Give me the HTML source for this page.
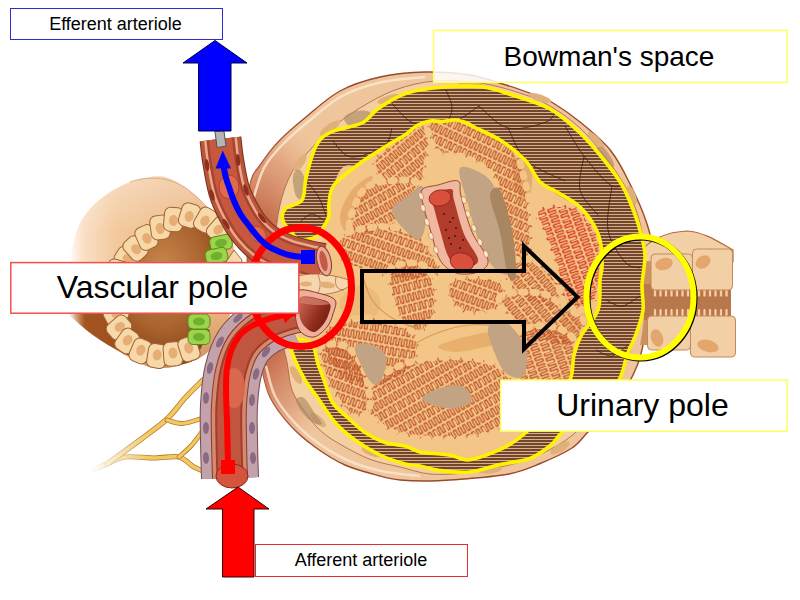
<!DOCTYPE html>
<html><head><meta charset="utf-8"><title>Renal corpuscle</title>
<style>
html,body{margin:0;padding:0;background:#fff;}
body{width:800px;height:600px;overflow:hidden;position:relative;font-family:"Liberation Sans",sans-serif;}
svg{position:absolute;left:0;top:0;}
.lb{position:absolute;box-sizing:border-box;display:flex;align-items:center;justify-content:center;color:#000;white-space:nowrap;}
</style></head><body>
<svg width="800" height="600" viewBox="0 0 800 600">
<defs>
<pattern id="hatch" width="6" height="3" patternUnits="userSpaceOnUse">
  <rect width="6" height="3" fill="#6a4029"/>
  <rect width="6" height="1.1" y="0.95" fill="#dcae88"/>
</pattern>
<pattern id="sq" width="22" height="16" patternUnits="userSpaceOnUse" patternTransform="rotate(-20)">
  <path d="M0,4 h3 v-3 h3 v3 h3 v-3 h3 v3 h3 v-3 h3 v3 h4 M0,12 h2 v-3 h3 v3 h3 v-3 h3 v3 h3 v-3 h3 v3 h5" fill="none" stroke="#c2552b" stroke-width="1.4" stroke-linejoin="round"/>
</pattern>
<linearGradient id="gBody" x1="0" y1="0" x2="1" y2="0">
  <stop offset="0" stop-color="#ffffff"/><stop offset="0.09" stop-color="#fae0c6"/><stop offset="0.28" stop-color="#f3c99e"/><stop offset="0.6" stop-color="#eebb8a"/><stop offset="1" stop-color="#e8b07c"/>
</linearGradient>
<radialGradient id="gLumen" cx="0.45" cy="0.4" r="0.7">
  <stop offset="0" stop-color="#c98a4e"/><stop offset="0.6" stop-color="#a8612c"/><stop offset="1" stop-color="#7d3c12"/>
</radialGradient>
<radialGradient id="gCaps" cx="0.5" cy="0.5" r="0.55">
  <stop offset="0.7" stop-color="#f4cfa5"/><stop offset="1" stop-color="#eab887"/>
</radialGradient>
<linearGradient id="gUnder" x1="0" y1="0" x2="1" y2="0">
  <stop offset="0" stop-color="#a5541f" stop-opacity="0"/><stop offset="0.12" stop-color="#a5541f"/><stop offset="1" stop-color="#8a4418"/>
</linearGradient>
<linearGradient id="gFade" x1="0" y1="0" x2="1" y2="0"><stop offset="0" stop-color="#000"/><stop offset="1" stop-color="#fff"/></linearGradient>
<mask id="mFade" maskUnits="userSpaceOnUse" x="90" y="370" width="130" height="110"><rect x="90" y="370" width="60" height="110" fill="url(#gFade)"/><rect x="150" y="370" width="70" height="110" fill="#fff"/></mask>
<pattern id="sq0" width="10.80" height="21.00" patternUnits="userSpaceOnUse" patternTransform="rotate(-40)"><path d="M0.00,1.50 v7.00 h2.70 v-7.00 h2.70 v7.00 h2.70 v-7.00 h2.70 M1.30,12.00 v7.00 h2.70 v-7.00 h2.70 v7.00 h2.70 v-7.00 h2.70" fill="none" stroke="#c2562c" stroke-width="1.28" stroke-linejoin="round" stroke-linecap="round"/></pattern>
<pattern id="sqr0" width="10.80" height="21.00" patternUnits="userSpaceOnUse" patternTransform="rotate(-40)"><path d="M0.00,1.50 v7.00 h2.70 v-7.00 h2.70 v7.00 h2.70 v-7.00 h2.70 M1.30,12.00 v7.00 h2.70 v-7.00 h2.70 v7.00 h2.70 v-7.00 h2.70" fill="none" stroke="#d63a24" stroke-width="1.28" stroke-linejoin="round" stroke-linecap="round"/></pattern>
<pattern id="sq1" width="10.80" height="21.00" patternUnits="userSpaceOnUse" patternTransform="rotate(-30)"><path d="M0.00,1.50 v7.00 h2.70 v-7.00 h2.70 v7.00 h2.70 v-7.00 h2.70 M1.30,12.00 v7.00 h2.70 v-7.00 h2.70 v7.00 h2.70 v-7.00 h2.70" fill="none" stroke="#c2562c" stroke-width="1.28" stroke-linejoin="round" stroke-linecap="round"/></pattern>
<pattern id="sqr1" width="10.80" height="21.00" patternUnits="userSpaceOnUse" patternTransform="rotate(-30)"><path d="M0.00,1.50 v7.00 h2.70 v-7.00 h2.70 v7.00 h2.70 v-7.00 h2.70 M1.30,12.00 v7.00 h2.70 v-7.00 h2.70 v7.00 h2.70 v-7.00 h2.70" fill="none" stroke="#d63a24" stroke-width="1.28" stroke-linejoin="round" stroke-linecap="round"/></pattern>
<pattern id="sq2" width="10.80" height="21.00" patternUnits="userSpaceOnUse" patternTransform="rotate(20)"><path d="M0.00,1.50 v7.00 h2.70 v-7.00 h2.70 v7.00 h2.70 v-7.00 h2.70 M1.30,12.00 v7.00 h2.70 v-7.00 h2.70 v7.00 h2.70 v-7.00 h2.70" fill="none" stroke="#c2562c" stroke-width="1.28" stroke-linejoin="round" stroke-linecap="round"/></pattern>
<pattern id="sqr2" width="10.80" height="21.00" patternUnits="userSpaceOnUse" patternTransform="rotate(20)"><path d="M0.00,1.50 v7.00 h2.70 v-7.00 h2.70 v7.00 h2.70 v-7.00 h2.70 M1.30,12.00 v7.00 h2.70 v-7.00 h2.70 v7.00 h2.70 v-7.00 h2.70" fill="none" stroke="#d63a24" stroke-width="1.28" stroke-linejoin="round" stroke-linecap="round"/></pattern>
<pattern id="sq3" width="10.80" height="21.00" patternUnits="userSpaceOnUse" patternTransform="rotate(25)"><path d="M0.00,1.50 v7.00 h2.70 v-7.00 h2.70 v7.00 h2.70 v-7.00 h2.70 M1.30,12.00 v7.00 h2.70 v-7.00 h2.70 v7.00 h2.70 v-7.00 h2.70" fill="none" stroke="#c2562c" stroke-width="1.28" stroke-linejoin="round" stroke-linecap="round"/></pattern>
<pattern id="sqr3" width="10.80" height="21.00" patternUnits="userSpaceOnUse" patternTransform="rotate(25)"><path d="M0.00,1.50 v7.00 h2.70 v-7.00 h2.70 v7.00 h2.70 v-7.00 h2.70 M1.30,12.00 v7.00 h2.70 v-7.00 h2.70 v7.00 h2.70 v-7.00 h2.70" fill="none" stroke="#d63a24" stroke-width="1.28" stroke-linejoin="round" stroke-linecap="round"/></pattern>
<pattern id="sq4" width="10.80" height="21.00" patternUnits="userSpaceOnUse" patternTransform="rotate(50)"><path d="M0.00,1.50 v7.00 h2.70 v-7.00 h2.70 v7.00 h2.70 v-7.00 h2.70 M1.30,12.00 v7.00 h2.70 v-7.00 h2.70 v7.00 h2.70 v-7.00 h2.70" fill="none" stroke="#c2562c" stroke-width="1.28" stroke-linejoin="round" stroke-linecap="round"/></pattern>
<pattern id="sqr4" width="10.80" height="21.00" patternUnits="userSpaceOnUse" patternTransform="rotate(50)"><path d="M0.00,1.50 v7.00 h2.70 v-7.00 h2.70 v7.00 h2.70 v-7.00 h2.70 M1.30,12.00 v7.00 h2.70 v-7.00 h2.70 v7.00 h2.70 v-7.00 h2.70" fill="none" stroke="#d63a24" stroke-width="1.28" stroke-linejoin="round" stroke-linecap="round"/></pattern>
<pattern id="sq5" width="10.80" height="21.00" patternUnits="userSpaceOnUse" patternTransform="rotate(70)"><path d="M0.00,1.50 v7.00 h2.70 v-7.00 h2.70 v7.00 h2.70 v-7.00 h2.70 M1.30,12.00 v7.00 h2.70 v-7.00 h2.70 v7.00 h2.70 v-7.00 h2.70" fill="none" stroke="#c2562c" stroke-width="1.28" stroke-linejoin="round" stroke-linecap="round"/></pattern>
<pattern id="sqr5" width="10.80" height="21.00" patternUnits="userSpaceOnUse" patternTransform="rotate(70)"><path d="M0.00,1.50 v7.00 h2.70 v-7.00 h2.70 v7.00 h2.70 v-7.00 h2.70 M1.30,12.00 v7.00 h2.70 v-7.00 h2.70 v7.00 h2.70 v-7.00 h2.70" fill="none" stroke="#d63a24" stroke-width="1.28" stroke-linejoin="round" stroke-linecap="round"/></pattern>
<pattern id="sq6" width="10.80" height="21.00" patternUnits="userSpaceOnUse" patternTransform="rotate(-15)"><path d="M0.00,1.50 v7.00 h2.70 v-7.00 h2.70 v7.00 h2.70 v-7.00 h2.70 M1.30,12.00 v7.00 h2.70 v-7.00 h2.70 v7.00 h2.70 v-7.00 h2.70" fill="none" stroke="#c2562c" stroke-width="1.28" stroke-linejoin="round" stroke-linecap="round"/></pattern>
<pattern id="sqr6" width="10.80" height="21.00" patternUnits="userSpaceOnUse" patternTransform="rotate(-15)"><path d="M0.00,1.50 v7.00 h2.70 v-7.00 h2.70 v7.00 h2.70 v-7.00 h2.70 M1.30,12.00 v7.00 h2.70 v-7.00 h2.70 v7.00 h2.70 v-7.00 h2.70" fill="none" stroke="#d63a24" stroke-width="1.28" stroke-linejoin="round" stroke-linecap="round"/></pattern>
<pattern id="sq7" width="10.80" height="21.00" patternUnits="userSpaceOnUse" patternTransform="rotate(10)"><path d="M0.00,1.50 v7.00 h2.70 v-7.00 h2.70 v7.00 h2.70 v-7.00 h2.70 M1.30,12.00 v7.00 h2.70 v-7.00 h2.70 v7.00 h2.70 v-7.00 h2.70" fill="none" stroke="#c2562c" stroke-width="1.28" stroke-linejoin="round" stroke-linecap="round"/></pattern>
<pattern id="sqr7" width="10.80" height="21.00" patternUnits="userSpaceOnUse" patternTransform="rotate(10)"><path d="M0.00,1.50 v7.00 h2.70 v-7.00 h2.70 v7.00 h2.70 v-7.00 h2.70 M1.30,12.00 v7.00 h2.70 v-7.00 h2.70 v7.00 h2.70 v-7.00 h2.70" fill="none" stroke="#d63a24" stroke-width="1.28" stroke-linejoin="round" stroke-linecap="round"/></pattern>
<linearGradient id="gCapsO" x1="0" y1="0.2" x2="1" y2="0.6">
  <stop offset="0" stop-color="#d89a70"/><stop offset="0.25" stop-color="#e7b488"/><stop offset="0.6" stop-color="#efc598"/><stop offset="1" stop-color="#e9b98a"/>
</linearGradient>
<radialGradient id="gRed" cx="0.5" cy="0.5" r="0.5">
  <stop offset="0" stop-color="#bc5c3e" stop-opacity="1"/><stop offset="0.45" stop-color="#c66e4e" stop-opacity="0.95"/><stop offset="0.75" stop-color="#d88e6c" stop-opacity="0.6"/><stop offset="1" stop-color="#e8b08a" stop-opacity="0"/>
</radialGradient>
<linearGradient id="gOpen" x1="0" y1="0.2" x2="1" y2="0.8">
  <stop offset="0" stop-color="#c86450"/><stop offset="0.6" stop-color="#8e2c1c"/><stop offset="1" stop-color="#6e1a10"/>
</linearGradient>
<linearGradient id="gBodyV" x1="0" y1="0" x2="0" y2="1">
  <stop offset="0" stop-color="#fff" stop-opacity="0.35"/><stop offset="0.3" stop-color="#fff" stop-opacity="0"/><stop offset="0.7" stop-color="#c07840" stop-opacity="0"/><stop offset="1" stop-color="#b06830" stop-opacity="0.5"/>
</linearGradient>
</defs>
<g mask="url(#mFade)">
<path d="M92.0,470.0 C94.5,469.0 101.5,466.2 107.0,464.0 C112.5,461.8 117.0,458.0 125.0,457.0 C133.0,456.0 146.0,458.0 155.0,458.0 C164.0,458.0 172.5,455.5 179.0,457.0 C185.5,458.5 189.0,464.3 194.0,467.0 C199.0,469.7 206.5,472.0 209.0,473.0" fill="none" stroke="#b07c2a" stroke-width="5.2" stroke-linecap="round"/>
<path d="M92.0,470.0 C94.5,469.0 101.5,466.2 107.0,464.0 C112.5,461.8 117.0,458.0 125.0,457.0 C133.0,456.0 146.0,458.0 155.0,458.0 C164.0,458.0 172.5,455.5 179.0,457.0 C185.5,458.5 189.0,464.3 194.0,467.0 C199.0,469.7 206.5,472.0 209.0,473.0" fill="none" stroke="#f3c862" stroke-width="3.6" stroke-linecap="round"/>
<path d="M107.0,464.0 C112.5,460.0 130.0,447.5 140.0,440.0 C150.0,432.5 159.5,426.0 167.0,419.0 C174.5,412.0 179.0,404.5 185.0,398.0 C191.0,391.5 200.0,383.0 203.0,380.0" fill="none" stroke="#b07c2a" stroke-width="5.4" stroke-linecap="round"/>
<path d="M107.0,464.0 C112.5,460.0 130.0,447.5 140.0,440.0 C150.0,432.5 159.5,426.0 167.0,419.0 C174.5,412.0 179.0,404.5 185.0,398.0 C191.0,391.5 200.0,383.0 203.0,380.0" fill="none" stroke="#f3c862" stroke-width="3.8" stroke-linecap="round"/>
<path d="M167.0,420.0 C169.5,420.6 176.5,423.7 182.0,423.5 C187.5,423.3 197.0,419.8 200.0,419.0" fill="none" stroke="#b07c2a" stroke-width="4.8" stroke-linecap="round"/>
<path d="M167.0,420.0 C169.5,420.6 176.5,423.7 182.0,423.5 C187.5,423.3 197.0,419.8 200.0,419.0" fill="none" stroke="#f3c862" stroke-width="3.2" stroke-linecap="round"/>
<path d="M179.0,457.0 C181.0,455.2 187.2,450.1 191.0,446.0 C194.8,441.9 199.8,434.8 201.5,432.6" fill="none" stroke="#b07c2a" stroke-width="4.8" stroke-linecap="round"/>
<path d="M179.0,457.0 C181.0,455.2 187.2,450.1 191.0,446.0 C194.8,441.9 199.8,434.8 201.5,432.6" fill="none" stroke="#f3c862" stroke-width="3.2" stroke-linecap="round"/>
</g>
<path d="M68.0,285.0 C67.7,274.2 70.0,260.3 72.0,250.0 C74.0,239.7 75.7,231.2 80.0,223.0 C84.3,214.8 90.8,207.3 98.0,201.0 C105.2,194.7 115.2,188.8 123.0,185.0 C130.8,181.2 138.0,179.3 145.0,178.0 C152.0,176.7 158.2,175.3 165.0,177.0 C171.8,178.7 179.0,183.0 186.0,188.0 C193.0,193.0 199.3,198.3 207.0,207.0 C214.7,215.7 227.5,224.5 232.0,240.0 C236.5,255.5 237.0,282.5 234.0,300.0 C231.0,317.5 221.3,334.7 214.0,345.0 C206.7,355.3 199.8,358.2 190.0,362.0 C180.2,365.8 165.8,369.2 155.0,368.0 C144.2,366.8 135.0,360.5 125.0,355.0 C115.0,349.5 103.5,341.7 95.0,335.0 C86.5,328.3 78.5,323.3 74.0,315.0 C69.5,306.7 68.3,295.8 68.0,285.0Z" fill="url(#gBody)"/>
<path d="M68.0,285.0 C67.7,274.2 70.0,260.3 72.0,250.0 C74.0,239.7 75.7,231.2 80.0,223.0 C84.3,214.8 90.8,207.3 98.0,201.0 C105.2,194.7 115.2,188.8 123.0,185.0 C130.8,181.2 138.0,179.3 145.0,178.0 C152.0,176.7 158.2,175.3 165.0,177.0 C171.8,178.7 179.0,183.0 186.0,188.0 C193.0,193.0 199.3,198.3 207.0,207.0 C214.7,215.7 227.5,224.5 232.0,240.0 C236.5,255.5 237.0,282.5 234.0,300.0 C231.0,317.5 221.3,334.7 214.0,345.0 C206.7,355.3 199.8,358.2 190.0,362.0 C180.2,365.8 165.8,369.2 155.0,368.0 C144.2,366.8 135.0,360.5 125.0,355.0 C115.0,349.5 103.5,341.7 95.0,335.0 C86.5,328.3 78.5,323.3 74.0,315.0 C69.5,306.7 68.3,295.8 68.0,285.0Z" fill="url(#gBodyV)"/>
<path d="M130,182 C145,177 165,175 186,188 C195,195 202,201 210,211" fill="none" stroke="#d0a070" stroke-width="1" opacity="0.7"/>
<path d="M68,300 L68,314 C85,330 100,342 125,354 C150,366 175,370 195,360 L210,330 L120,300 Z" fill="url(#gUnder)"/>
<path d="M127.0,258.5 C129.8,254.9 132.2,252.0 135.5,248.5 C138.8,245.0 142.4,241.0 146.5,237.5 C150.6,234.0 155.5,230.5 160.0,227.5 C164.5,224.5 168.6,221.5 173.5,219.5 C178.4,217.5 184.2,215.4 189.5,215.5 C194.8,215.6 200.6,217.8 205.5,220.0 C210.4,222.2 216.4,225.2 219.0,229.0 C221.6,232.8 221.7,238.0 221.0,242.5 C220.3,247.0 216.8,251.1 215.0,256.0 C213.2,260.9 211.5,266.3 210.0,272.0 C208.5,277.7 207.3,284.3 206.0,290.0 C204.7,295.7 203.2,300.7 202.0,306.0 C200.8,311.3 199.5,316.8 199.0,322.0 C198.5,327.2 200.7,333.0 199.0,337.5 C197.3,342.0 193.3,346.2 189.0,349.0 C184.7,351.8 178.3,352.8 173.0,354.0 C167.7,355.2 162.4,356.5 157.0,356.0 C151.6,355.5 145.5,353.5 140.5,351.0 C135.5,348.5 130.6,344.9 127.0,341.0 C123.4,337.1 120.8,332.0 119.0,327.5 C117.2,323.0 116.7,318.6 116.0,314.0 C115.3,309.4 115.0,304.8 115.0,300.0 C115.0,295.2 115.3,290.0 116.0,285.0 C116.7,280.0 117.2,274.4 119.0,270.0 C120.8,265.6 124.2,262.1 127.0,258.5Z" fill="url(#gLumen)"/>
<g transform="translate(127,258.5) rotate(-57)"><rect x="-9.5" y="-12" width="19" height="24" rx="6" fill="#f7d8a8" stroke="#a06434" stroke-width="1"/><ellipse cx="0" cy="1" rx="4.5" ry="5.5" fill="#e6ad74"/></g>
<g transform="translate(135.5,248.5) rotate(-42)"><rect x="-9.5" y="-12" width="19" height="24" rx="6" fill="#f7d8a8" stroke="#a06434" stroke-width="1"/><ellipse cx="0" cy="1" rx="4.5" ry="5.5" fill="#e6ad74"/></g>
<g transform="translate(146.5,237.5) rotate(-24)"><rect x="-9.5" y="-12" width="19" height="24" rx="6" fill="#f7d8a8" stroke="#a06434" stroke-width="1"/><ellipse cx="0" cy="1" rx="4.5" ry="5.5" fill="#e6ad74"/></g>
<g transform="translate(160,227.5) rotate(-8)"><rect x="-9.5" y="-12" width="19" height="24" rx="6" fill="#f7d8a8" stroke="#a06434" stroke-width="1"/><ellipse cx="0" cy="1" rx="4.5" ry="5.5" fill="#e6ad74"/></g>
<g transform="translate(173.5,219.5) rotate(5)"><rect x="-9.5" y="-12" width="19" height="24" rx="6" fill="#f7d8a8" stroke="#a06434" stroke-width="1"/><ellipse cx="0" cy="1" rx="4.5" ry="5.5" fill="#e6ad74"/></g>
<g transform="translate(189.5,215.5) rotate(17)"><rect x="-9.5" y="-12" width="19" height="24" rx="6" fill="#f7d8a8" stroke="#a06434" stroke-width="1"/><ellipse cx="0" cy="1" rx="4.5" ry="5.5" fill="#e6ad74"/></g>
<g transform="translate(205.5,220) rotate(30)"><rect x="-9.5" y="-12" width="19" height="24" rx="6" fill="#f7d8a8" stroke="#a06434" stroke-width="1"/><ellipse cx="0" cy="1" rx="4.5" ry="5.5" fill="#e6ad74"/></g>
<g transform="translate(219,229) rotate(42)"><rect x="-9.5" y="-12" width="19" height="24" rx="6" fill="#f7d8a8" stroke="#a06434" stroke-width="1"/><ellipse cx="0" cy="1" rx="4.5" ry="5.5" fill="#e6ad74"/></g>
<g transform="translate(119,270) rotate(-73)"><rect x="-9.5" y="-12" width="19" height="24" rx="6" fill="#f7d8a8" stroke="#a06434" stroke-width="1"/><ellipse cx="0" cy="1" rx="4.5" ry="5.5" fill="#e6ad74"/></g>
<g transform="translate(116,285) rotate(270)"><rect x="-9.5" y="-12" width="19" height="24" rx="6" fill="#f7d8a8" stroke="#a06434" stroke-width="1"/><ellipse cx="0" cy="1" rx="4.5" ry="5.5" fill="#e6ad74"/></g>
<g transform="translate(115,300) rotate(254)"><rect x="-9.5" y="-12" width="19" height="24" rx="6" fill="#f7d8a8" stroke="#a06434" stroke-width="1"/><ellipse cx="0" cy="1" rx="4.5" ry="5.5" fill="#e6ad74"/></g>
<g transform="translate(116,314) rotate(241)"><rect x="-9.5" y="-12" width="19" height="24" rx="6" fill="#f7d8a8" stroke="#a06434" stroke-width="1"/><ellipse cx="0" cy="1" rx="4.5" ry="5.5" fill="#e6ad74"/></g>
<g transform="translate(119,327.5) rotate(229)"><rect x="-9.5" y="-12" width="19" height="24" rx="6" fill="#f7d8a8" stroke="#a06434" stroke-width="1"/><ellipse cx="0" cy="1" rx="4.5" ry="5.5" fill="#e6ad74"/></g>
<g transform="translate(127,341) rotate(216)"><rect x="-9.5" y="-12" width="19" height="24" rx="6" fill="#f7d8a8" stroke="#a06434" stroke-width="1"/><ellipse cx="0" cy="1" rx="4.5" ry="5.5" fill="#e6ad74"/></g>
<g transform="translate(140.5,351) rotate(203)"><rect x="-9.5" y="-12" width="19" height="24" rx="6" fill="#f7d8a8" stroke="#a06434" stroke-width="1"/><ellipse cx="0" cy="1" rx="4.5" ry="5.5" fill="#e6ad74"/></g>
<g transform="translate(157,356) rotate(189)"><rect x="-9.5" y="-12" width="19" height="24" rx="6" fill="#f7d8a8" stroke="#a06434" stroke-width="1"/><ellipse cx="0" cy="1" rx="4.5" ry="5.5" fill="#e6ad74"/></g>
<g transform="translate(173,354) rotate(176)"><rect x="-9.5" y="-12" width="19" height="24" rx="6" fill="#f7d8a8" stroke="#a06434" stroke-width="1"/><ellipse cx="0" cy="1" rx="4.5" ry="5.5" fill="#e6ad74"/></g>
<g transform="translate(189,349) rotate(162)"><rect x="-9.5" y="-12" width="19" height="24" rx="6" fill="#f7d8a8" stroke="#a06434" stroke-width="1"/><ellipse cx="0" cy="1" rx="4.5" ry="5.5" fill="#e6ad74"/></g>
<g transform="translate(221,243) rotate(-12)"><rect x="-11" y="-7.5" width="22" height="15" rx="5" fill="#9cd44c" stroke="#5a8a1e" stroke-width="1"/><ellipse cx="0" cy="0" rx="6" ry="4" fill="#6fb02e"/></g>
<g transform="translate(216.5,256) rotate(-12)"><rect x="-11" y="-7.5" width="22" height="15" rx="5" fill="#9cd44c" stroke="#5a8a1e" stroke-width="1"/><ellipse cx="0" cy="0" rx="6" ry="4" fill="#6fb02e"/></g>
<g transform="translate(212,272) rotate(-8)"><rect x="-11" y="-7.5" width="22" height="15" rx="5" fill="#9cd44c" stroke="#5a8a1e" stroke-width="1"/><ellipse cx="0" cy="0" rx="6" ry="4" fill="#6fb02e"/></g>
<g transform="translate(207,288) rotate(-5)"><rect x="-11" y="-7.5" width="22" height="15" rx="5" fill="#9cd44c" stroke="#5a8a1e" stroke-width="1"/><ellipse cx="0" cy="0" rx="6" ry="4" fill="#6fb02e"/></g>
<g transform="translate(203,304) rotate(-3)"><rect x="-11" y="-7.5" width="22" height="15" rx="5" fill="#9cd44c" stroke="#5a8a1e" stroke-width="1"/><ellipse cx="0" cy="0" rx="6" ry="4" fill="#6fb02e"/></g>
<g transform="translate(199,321.5) rotate(0)"><rect x="-11" y="-7.5" width="22" height="15" rx="5" fill="#9cd44c" stroke="#5a8a1e" stroke-width="1"/><ellipse cx="0" cy="0" rx="6" ry="4" fill="#6fb02e"/></g>
<g transform="translate(199,337) rotate(0)"><rect x="-11" y="-7.5" width="22" height="15" rx="5" fill="#9cd44c" stroke="#5a8a1e" stroke-width="1"/><ellipse cx="0" cy="0" rx="6" ry="4" fill="#6fb02e"/></g>
<path d="M226,262 l8,-12 l8,10 l-4,16 l-10,4 Z" fill="#f5d9a8" stroke="#8a5326" stroke-width="0.8"/>
<path d="M425.0,72.0 C440.0,71.7 456.5,72.8 470.0,75.0 C483.5,77.2 495.2,81.7 506.0,85.0 C516.8,88.3 527.7,92.3 535.0,95.0 C542.3,97.7 542.5,96.5 550.0,101.0 C557.5,105.5 569.8,113.7 580.0,122.0 C590.2,130.3 602.5,140.3 611.0,151.0 C619.5,161.7 625.2,174.3 631.0,186.0 C636.8,197.7 642.5,210.3 646.0,221.0 C649.5,231.7 651.3,236.8 652.0,250.0 C652.7,263.2 651.3,285.0 650.0,300.0 C648.7,315.0 646.2,329.0 644.0,340.0 C641.8,351.0 641.0,356.3 637.0,366.0 C633.0,375.7 626.2,388.7 620.0,398.0 C613.8,407.3 605.3,416.3 600.0,422.0 C594.7,427.7 592.7,427.7 588.0,432.0 C583.3,436.3 580.2,442.7 572.0,448.0 C563.8,453.3 549.5,459.7 539.0,464.0 C528.5,468.3 521.5,471.5 509.0,474.0 C496.5,476.5 477.2,477.8 464.0,479.0 C450.8,480.2 440.7,480.8 430.0,481.0 C419.3,481.2 408.3,480.8 400.0,480.0 C391.7,479.2 389.2,478.5 380.0,476.0 C370.8,473.5 355.8,469.8 345.0,465.0 C334.2,460.2 324.2,453.7 315.0,447.0 C305.8,440.3 297.5,433.3 290.0,425.0 C282.5,416.7 274.8,407.0 270.0,397.0 C265.2,387.0 263.7,376.2 261.0,365.0 C258.3,353.8 256.0,342.5 254.0,330.0 C252.0,317.5 250.2,305.0 249.0,290.0 C247.8,275.0 246.8,257.5 247.0,240.0 C247.2,222.5 247.7,197.7 250.0,185.0 C252.3,172.3 256.0,171.5 261.0,164.0 C266.0,156.5 272.5,147.8 280.0,140.0 C287.5,132.2 296.0,125.2 306.0,117.0 C316.0,108.8 327.7,97.7 340.0,91.0 C352.3,84.3 365.8,80.2 380.0,77.0 C394.2,73.8 410.0,72.3 425.0,72.0Z" fill="#efc59c" stroke="#9a4a2c" stroke-width="1.4"/>
<clipPath id="cC"><path d="M425.0,72.0 C440.0,71.7 456.5,72.8 470.0,75.0 C483.5,77.2 495.2,81.7 506.0,85.0 C516.8,88.3 527.7,92.3 535.0,95.0 C542.3,97.7 542.5,96.5 550.0,101.0 C557.5,105.5 569.8,113.7 580.0,122.0 C590.2,130.3 602.5,140.3 611.0,151.0 C619.5,161.7 625.2,174.3 631.0,186.0 C636.8,197.7 642.5,210.3 646.0,221.0 C649.5,231.7 651.3,236.8 652.0,250.0 C652.7,263.2 651.3,285.0 650.0,300.0 C648.7,315.0 646.2,329.0 644.0,340.0 C641.8,351.0 641.0,356.3 637.0,366.0 C633.0,375.7 626.2,388.7 620.0,398.0 C613.8,407.3 605.3,416.3 600.0,422.0 C594.7,427.7 592.7,427.7 588.0,432.0 C583.3,436.3 580.2,442.7 572.0,448.0 C563.8,453.3 549.5,459.7 539.0,464.0 C528.5,468.3 521.5,471.5 509.0,474.0 C496.5,476.5 477.2,477.8 464.0,479.0 C450.8,480.2 440.7,480.8 430.0,481.0 C419.3,481.2 408.3,480.8 400.0,480.0 C391.7,479.2 389.2,478.5 380.0,476.0 C370.8,473.5 355.8,469.8 345.0,465.0 C334.2,460.2 324.2,453.7 315.0,447.0 C305.8,440.3 297.5,433.3 290.0,425.0 C282.5,416.7 274.8,407.0 270.0,397.0 C265.2,387.0 263.7,376.2 261.0,365.0 C258.3,353.8 256.0,342.5 254.0,330.0 C252.0,317.5 250.2,305.0 249.0,290.0 C247.8,275.0 246.8,257.5 247.0,240.0 C247.2,222.5 247.7,197.7 250.0,185.0 C252.3,172.3 256.0,171.5 261.0,164.0 C266.0,156.5 272.5,147.8 280.0,140.0 C287.5,132.2 296.0,125.2 306.0,117.0 C316.0,108.8 327.7,97.7 340.0,91.0 C352.3,84.3 365.8,80.2 380.0,77.0 C394.2,73.8 410.0,72.3 425.0,72.0Z"/></clipPath>
<g clip-path="url(#cC)">
<ellipse cx="248" cy="290" rx="105" ry="185" fill="url(#gRed)"/>
<path d="M253.0,200.0 C254.8,194.7 259.0,177.3 264.0,168.0 C269.0,158.7 275.5,151.8 283.0,144.0 C290.5,136.2 299.2,129.0 309.0,121.0 C318.8,113.0 329.8,102.5 342.0,96.0 C354.2,89.5 368.2,85.2 382.0,82.0 C395.8,78.8 417.8,77.8 425.0,77.0" fill="none" stroke="#fbe6d0" stroke-width="2.5" opacity="0.85"/>
<path d="M266.0,366.0 C267.5,371.0 270.3,386.7 275.0,396.0 C279.7,405.3 286.8,414.2 294.0,422.0 C301.2,429.8 309.2,436.7 318.0,443.0 C326.8,449.3 336.5,455.3 347.0,460.0 C357.5,464.7 368.8,468.3 381.0,471.0 C393.2,473.7 413.5,475.2 420.0,476.0" fill="none" stroke="#fbe6d0" stroke-width="2.5" opacity="0.8"/>
</g>
<path d="M435.0,81.0 C449.2,79.8 465.8,81.0 480.0,83.0 C494.2,85.0 508.3,89.2 520.0,93.0 C531.7,96.8 540.0,100.2 550.0,106.0 C560.0,111.8 570.7,119.3 580.0,128.0 C589.3,136.7 598.3,148.0 606.0,158.0 C613.7,168.0 620.7,178.3 626.0,188.0 C631.3,197.7 635.2,206.5 638.0,216.0 C640.8,225.5 642.5,231.0 643.0,245.0 C643.5,259.0 642.7,284.2 641.0,300.0 C639.3,315.8 635.5,329.7 633.0,340.0 C630.5,350.3 629.8,353.3 626.0,362.0 C622.2,370.7 616.0,382.7 610.0,392.0 C604.0,401.3 597.3,410.0 590.0,418.0 C582.7,426.0 575.7,433.3 566.0,440.0 C556.3,446.7 543.0,453.5 532.0,458.0 C521.0,462.5 511.3,464.5 500.0,467.0 C488.7,469.5 475.7,471.8 464.0,473.0 C452.3,474.2 440.7,475.0 430.0,474.0 C419.3,473.0 409.7,469.3 400.0,467.0 C390.3,464.7 381.2,463.3 372.0,460.0 C362.8,456.7 353.3,451.7 345.0,447.0 C336.7,442.3 328.7,437.8 322.0,432.0 C315.3,426.2 310.0,419.0 305.0,412.0 C300.0,405.0 295.0,398.3 292.0,390.0 C289.0,381.7 289.0,372.0 287.0,362.0 C285.0,352.0 281.8,342.0 280.0,330.0 C278.2,318.0 276.8,304.2 276.0,290.0 C275.2,275.8 274.3,259.2 275.0,245.0 C275.7,230.8 277.2,217.2 280.0,205.0 C282.8,192.8 287.0,181.2 292.0,172.0 C297.0,162.8 303.3,157.3 310.0,150.0 C316.7,142.7 323.7,135.0 332.0,128.0 C340.3,121.0 349.5,114.3 360.0,108.0 C370.5,101.7 382.5,94.5 395.0,90.0 C407.5,85.5 420.8,82.2 435.0,81.0Z" fill="#f3cfa2" stroke="#a9603c" stroke-width="0.8"/>
<ellipse cx="330" cy="128" rx="12" ry="4" fill="#e0b07a" transform="rotate(-35 330 128)"/>
<ellipse cx="300" cy="163" rx="10" ry="4" fill="#e0b07a" transform="rotate(-55 300 163)"/>
<ellipse cx="288" cy="215" rx="9" ry="4" fill="#e0b07a" transform="rotate(-80 288 215)"/>
<ellipse cx="296" cy="375" rx="10" ry="4" fill="#e0b07a" transform="rotate(60 296 375)"/>
<ellipse cx="318" cy="420" rx="10" ry="4" fill="#e0b07a" transform="rotate(40 318 420)"/>
<ellipse cx="372" cy="452" rx="11" ry="4" fill="#e0b07a" transform="rotate(20 372 452)"/>
<ellipse cx="390" cy="99" rx="13" ry="4" fill="#e0b07a" transform="rotate(-15 390 99)"/>
<ellipse cx="470" cy="84" rx="12" ry="3.5" fill="#e0b07a" transform="rotate(2 470 84)"/>
<ellipse cx="540" cy="98" rx="12" ry="3.5" fill="#e0b07a" transform="rotate(18 540 98)"/>
<ellipse cx="596" cy="140" rx="11" ry="3.5" fill="#e0b07a" transform="rotate(45 596 140)"/>
<ellipse cx="632" cy="195" rx="10" ry="3.5" fill="#e0b07a" transform="rotate(68 632 195)"/>
<ellipse cx="560" cy="448" rx="11" ry="4" fill="#e0b07a" transform="rotate(-30 560 448)"/>
<ellipse cx="490" cy="470" rx="12" ry="3.5" fill="#e0b07a" transform="rotate(-6 490 470)"/>
<path d="M344.0,118.0 C344.7,115.3 351.7,112.0 356.0,111.0 C360.3,110.0 368.3,110.2 370.0,112.0 C371.7,113.8 369.0,119.5 366.0,122.0 C363.0,124.5 355.7,127.7 352.0,127.0 C348.3,126.3 343.3,120.7 344.0,118.0Z" fill="#a5835f" opacity="0.6"/>
<path d="M293.0,176.0 C293.7,171.7 297.8,168.7 300.0,170.0 C302.2,171.3 305.2,179.0 306.0,184.0 C306.8,189.0 306.7,198.0 305.0,200.0 C303.3,202.0 298.0,200.0 296.0,196.0 C294.0,192.0 292.3,180.3 293.0,176.0Z" fill="#a5835f" opacity="0.6"/>
<path d="M296.0,400.0 C296.3,397.7 301.0,396.0 304.0,398.0 C307.0,400.0 311.0,407.7 314.0,412.0 C317.0,416.3 322.3,422.3 322.0,424.0 C321.7,425.7 315.3,424.0 312.0,422.0 C308.7,420.0 304.7,415.7 302.0,412.0 C299.3,408.3 295.7,402.3 296.0,400.0Z" fill="#a5835f" opacity="0.6"/>
<path d="M596.0,150.0 C595.3,146.7 601.0,145.7 604.0,148.0 C607.0,150.3 613.3,160.7 614.0,164.0 C614.7,167.3 611.0,170.3 608.0,168.0 C605.0,165.7 596.7,153.3 596.0,150.0Z" fill="#a5835f" opacity="0.6"/>
<path d="M640,252 C650,240 665,232 687,231 C705,232 720,243 733,250 L733,262 L640,262 Z" fill="#f3cfa6" stroke="#b8683a" stroke-width="1.2"/>
<path d="M640,262 L652,262 L652,345 L640,345 C643,330 645,315 644,300 C643,285 642,275 640,262 Z" fill="#c9935f"/>
<rect x="644" y="284" width="87" height="36" fill="#b8784c"/>
<g fill="#f3cfa6" stroke="#b8683a" stroke-width="0.6"><rect x="653.5" y="288" width="3" height="9" rx="1.5"/><rect x="653.5" y="308.5" width="3" height="9" rx="1.5"/><rect x="659.0" y="288" width="3" height="9" rx="1.5"/><rect x="659.0" y="308.5" width="3" height="9" rx="1.5"/><rect x="664.5" y="288" width="3" height="9" rx="1.5"/><rect x="664.5" y="308.5" width="3" height="9" rx="1.5"/><rect x="670.0" y="288" width="3" height="9" rx="1.5"/><rect x="670.0" y="308.5" width="3" height="9" rx="1.5"/><rect x="675.5" y="288" width="3" height="9" rx="1.5"/><rect x="675.5" y="308.5" width="3" height="9" rx="1.5"/><rect x="681.0" y="288" width="3" height="9" rx="1.5"/><rect x="681.0" y="308.5" width="3" height="9" rx="1.5"/><rect x="686.5" y="288" width="3" height="9" rx="1.5"/><rect x="686.5" y="308.5" width="3" height="9" rx="1.5"/><rect x="692.0" y="288" width="3" height="9" rx="1.5"/><rect x="692.0" y="308.5" width="3" height="9" rx="1.5"/><rect x="697.5" y="288" width="3" height="9" rx="1.5"/><rect x="697.5" y="308.5" width="3" height="9" rx="1.5"/><rect x="703.0" y="288" width="3" height="9" rx="1.5"/><rect x="703.0" y="308.5" width="3" height="9" rx="1.5"/><rect x="708.5" y="288" width="3" height="9" rx="1.5"/><rect x="708.5" y="308.5" width="3" height="9" rx="1.5"/><rect x="714.0" y="288" width="3" height="9" rx="1.5"/><rect x="714.0" y="308.5" width="3" height="9" rx="1.5"/><rect x="719.5" y="288" width="3" height="9" rx="1.5"/><rect x="719.5" y="308.5" width="3" height="9" rx="1.5"/><rect x="725.0" y="288" width="3" height="9" rx="1.5"/><rect x="725.0" y="308.5" width="3" height="9" rx="1.5"/></g>
<rect x="651" y="254" width="41.5" height="36" rx="4" fill="#f3cfa6" stroke="#c58a5c" stroke-width="1"/>
<ellipse cx="664" cy="264" rx="9" ry="6" fill="#e3a76e" transform="rotate(-15 664 264)"/>
<rect x="692.5" y="249" width="40" height="41" rx="4" fill="#f3cfa6" stroke="#c58a5c" stroke-width="1"/>
<ellipse cx="703" cy="262" rx="8" ry="6" fill="#e3a76e" transform="rotate(-35 703 262)"/>
<rect x="647.5" y="316" width="43" height="34" rx="4" fill="#f3cfa6" stroke="#c58a5c" stroke-width="1"/>
<ellipse cx="657" cy="338" rx="6" ry="9" fill="#e3a76e" transform="rotate(-20 657 338)"/>
<rect x="690.5" y="316" width="45" height="41" rx="4" fill="#f3cfa6" stroke="#c58a5c" stroke-width="1"/>
<ellipse cx="708" cy="346" rx="11" ry="6" fill="#e3a76e" transform="rotate(15 708 346)"/>
<path d="M283.0,221.0 C282.0,217.3 281.8,212.5 285.0,209.0 C288.2,205.5 298.5,205.2 302.0,200.0 C305.5,194.8 303.7,187.0 306.0,178.0 C308.3,169.0 311.8,153.7 316.0,146.0 C320.2,138.3 323.3,135.8 331.0,132.0 C338.7,128.2 354.0,127.0 362.0,123.0 C370.0,119.0 371.5,113.0 379.0,108.0 C386.5,103.0 396.0,96.5 407.0,93.0 C418.0,89.5 432.3,88.0 445.0,87.0 C457.7,86.0 471.8,85.7 483.0,87.0 C494.2,88.3 500.8,91.3 512.0,95.0 C523.2,98.7 538.7,102.7 550.0,109.0 C561.3,115.3 571.0,124.5 580.0,133.0 C589.0,141.5 597.0,151.3 604.0,160.0 C611.0,168.7 617.0,176.3 622.0,185.0 C627.0,193.7 630.8,203.8 634.0,212.0 C637.2,220.2 639.2,226.7 641.0,234.0 C642.8,241.3 644.8,247.5 645.0,256.0 C645.2,264.5 642.3,276.0 642.0,285.0 C641.7,294.0 644.0,301.8 643.0,310.0 C642.0,318.2 638.7,326.5 636.0,334.0 C633.3,341.5 629.8,347.3 627.0,355.0 C624.2,362.7 624.3,371.2 619.0,380.0 C613.7,388.8 604.3,399.4 595.0,408.0 C585.7,416.6 570.3,425.3 563.0,431.5 C555.7,437.7 556.5,440.5 551.0,445.0 C545.5,449.5 538.5,455.2 530.0,458.5 C521.5,461.8 510.0,462.2 500.0,464.5 C490.0,466.8 480.0,471.0 470.0,472.0 C460.0,473.0 448.3,471.5 440.0,470.5 C431.7,469.5 425.8,467.1 420.0,466.0 C414.2,464.9 411.7,465.8 405.0,464.0 C398.3,462.2 388.3,459.0 380.0,455.0 C371.7,451.0 362.5,445.4 355.0,440.0 C347.5,434.6 341.2,429.6 335.0,422.5 C328.8,415.4 322.5,404.6 317.5,397.5 C312.5,390.4 308.8,386.2 305.0,380.0 C301.2,373.8 297.5,366.2 295.0,360.0 C292.5,353.8 289.6,346.0 290.0,342.5 C290.4,339.0 293.8,338.6 297.5,339.0 C301.2,339.4 309.2,341.1 312.5,345.0 C315.8,348.9 315.6,356.7 317.5,362.5 C319.4,368.3 321.5,373.3 324.0,380.0 C326.5,386.7 328.6,396.2 332.5,402.5 C336.4,408.8 342.1,412.5 347.5,417.5 C352.9,422.5 358.8,428.3 365.0,432.5 C371.2,436.7 378.3,440.2 385.0,442.5 C391.7,444.8 399.2,444.4 405.0,446.0 C410.8,447.6 414.2,450.7 420.0,452.0 C425.8,453.3 434.7,453.4 440.0,454.0 C445.3,454.6 447.5,454.5 452.0,455.5 C456.5,456.5 461.5,460.0 467.0,460.0 C472.5,460.0 478.0,458.0 485.0,455.5 C492.0,453.0 502.0,449.0 509.0,445.0 C516.0,441.0 519.8,438.2 527.0,431.5 C534.2,424.8 544.8,413.6 552.0,405.0 C559.2,396.4 566.3,388.3 570.0,380.0 C573.7,371.7 572.2,362.3 574.0,355.0 C575.8,347.7 577.0,343.5 581.0,336.0 C585.0,328.5 594.8,319.3 598.0,310.0 C601.2,300.7 599.3,287.2 600.0,280.0 C600.7,272.8 601.8,272.8 602.0,267.0 C602.2,261.2 602.2,251.7 601.0,245.0 C599.8,238.3 598.5,233.3 595.0,227.0 C591.5,220.7 586.3,212.8 580.0,207.0 C573.7,201.2 563.7,196.2 557.0,192.0 C550.3,187.8 545.3,187.3 540.0,182.0 C534.7,176.7 531.7,167.0 525.0,160.0 C518.3,153.0 508.3,145.4 500.0,140.0 C491.7,134.6 480.5,130.3 475.0,127.5 C469.5,124.7 470.3,124.2 467.0,123.0 C463.7,121.8 459.2,120.2 455.0,120.0 C450.8,119.8 446.2,121.3 442.0,121.5 C437.8,121.7 434.2,120.3 430.0,121.0 C425.8,121.7 421.2,123.2 417.0,125.5 C412.8,127.8 409.2,132.2 405.0,135.0 C400.8,137.8 396.2,140.0 392.0,142.5 C387.8,145.0 385.5,146.4 380.0,150.0 C374.5,153.6 366.7,158.2 359.0,164.0 C351.3,169.8 339.0,178.3 334.0,185.0 C329.0,191.7 329.8,198.8 329.0,204.0 C328.2,209.2 329.8,212.3 329.0,216.0 C328.2,219.7 326.2,222.5 324.0,226.0 C321.8,229.5 320.3,234.8 316.0,237.0 C311.7,239.2 302.2,240.0 298.0,239.0 C293.8,238.0 293.5,234.0 291.0,231.0 C288.5,228.0 284.0,224.7 283.0,221.0Z" fill="url(#hatch)"/>
<clipPath id="cB"><path d="M283.0,221.0 C282.0,217.3 281.8,212.5 285.0,209.0 C288.2,205.5 298.5,205.2 302.0,200.0 C305.5,194.8 303.7,187.0 306.0,178.0 C308.3,169.0 311.8,153.7 316.0,146.0 C320.2,138.3 323.3,135.8 331.0,132.0 C338.7,128.2 354.0,127.0 362.0,123.0 C370.0,119.0 371.5,113.0 379.0,108.0 C386.5,103.0 396.0,96.5 407.0,93.0 C418.0,89.5 432.3,88.0 445.0,87.0 C457.7,86.0 471.8,85.7 483.0,87.0 C494.2,88.3 500.8,91.3 512.0,95.0 C523.2,98.7 538.7,102.7 550.0,109.0 C561.3,115.3 571.0,124.5 580.0,133.0 C589.0,141.5 597.0,151.3 604.0,160.0 C611.0,168.7 617.0,176.3 622.0,185.0 C627.0,193.7 630.8,203.8 634.0,212.0 C637.2,220.2 639.2,226.7 641.0,234.0 C642.8,241.3 644.8,247.5 645.0,256.0 C645.2,264.5 642.3,276.0 642.0,285.0 C641.7,294.0 644.0,301.8 643.0,310.0 C642.0,318.2 638.7,326.5 636.0,334.0 C633.3,341.5 629.8,347.3 627.0,355.0 C624.2,362.7 624.3,371.2 619.0,380.0 C613.7,388.8 604.3,399.4 595.0,408.0 C585.7,416.6 570.3,425.3 563.0,431.5 C555.7,437.7 556.5,440.5 551.0,445.0 C545.5,449.5 538.5,455.2 530.0,458.5 C521.5,461.8 510.0,462.2 500.0,464.5 C490.0,466.8 480.0,471.0 470.0,472.0 C460.0,473.0 448.3,471.5 440.0,470.5 C431.7,469.5 425.8,467.1 420.0,466.0 C414.2,464.9 411.7,465.8 405.0,464.0 C398.3,462.2 388.3,459.0 380.0,455.0 C371.7,451.0 362.5,445.4 355.0,440.0 C347.5,434.6 341.2,429.6 335.0,422.5 C328.8,415.4 322.5,404.6 317.5,397.5 C312.5,390.4 308.8,386.2 305.0,380.0 C301.2,373.8 297.5,366.2 295.0,360.0 C292.5,353.8 289.6,346.0 290.0,342.5 C290.4,339.0 293.8,338.6 297.5,339.0 C301.2,339.4 309.2,341.1 312.5,345.0 C315.8,348.9 315.6,356.7 317.5,362.5 C319.4,368.3 321.5,373.3 324.0,380.0 C326.5,386.7 328.6,396.2 332.5,402.5 C336.4,408.8 342.1,412.5 347.5,417.5 C352.9,422.5 358.8,428.3 365.0,432.5 C371.2,436.7 378.3,440.2 385.0,442.5 C391.7,444.8 399.2,444.4 405.0,446.0 C410.8,447.6 414.2,450.7 420.0,452.0 C425.8,453.3 434.7,453.4 440.0,454.0 C445.3,454.6 447.5,454.5 452.0,455.5 C456.5,456.5 461.5,460.0 467.0,460.0 C472.5,460.0 478.0,458.0 485.0,455.5 C492.0,453.0 502.0,449.0 509.0,445.0 C516.0,441.0 519.8,438.2 527.0,431.5 C534.2,424.8 544.8,413.6 552.0,405.0 C559.2,396.4 566.3,388.3 570.0,380.0 C573.7,371.7 572.2,362.3 574.0,355.0 C575.8,347.7 577.0,343.5 581.0,336.0 C585.0,328.5 594.8,319.3 598.0,310.0 C601.2,300.7 599.3,287.2 600.0,280.0 C600.7,272.8 601.8,272.8 602.0,267.0 C602.2,261.2 602.2,251.7 601.0,245.0 C599.8,238.3 598.5,233.3 595.0,227.0 C591.5,220.7 586.3,212.8 580.0,207.0 C573.7,201.2 563.7,196.2 557.0,192.0 C550.3,187.8 545.3,187.3 540.0,182.0 C534.7,176.7 531.7,167.0 525.0,160.0 C518.3,153.0 508.3,145.4 500.0,140.0 C491.7,134.6 480.5,130.3 475.0,127.5 C469.5,124.7 470.3,124.2 467.0,123.0 C463.7,121.8 459.2,120.2 455.0,120.0 C450.8,119.8 446.2,121.3 442.0,121.5 C437.8,121.7 434.2,120.3 430.0,121.0 C425.8,121.7 421.2,123.2 417.0,125.5 C412.8,127.8 409.2,132.2 405.0,135.0 C400.8,137.8 396.2,140.0 392.0,142.5 C387.8,145.0 385.5,146.4 380.0,150.0 C374.5,153.6 366.7,158.2 359.0,164.0 C351.3,169.8 339.0,178.3 334.0,185.0 C329.0,191.7 329.8,198.8 329.0,204.0 C328.2,209.2 329.8,212.3 329.0,216.0 C328.2,219.7 326.2,222.5 324.0,226.0 C321.8,229.5 320.3,234.8 316.0,237.0 C311.7,239.2 302.2,240.0 298.0,239.0 C293.8,238.0 293.5,234.0 291.0,231.0 C288.5,228.0 284.0,224.7 283.0,221.0Z"/></clipPath>
<g clip-path="url(#cB)" fill="none" stroke="#3a1e12" stroke-width="1" opacity="0.75">
<path d="M389.0,100.0 C393.0,103.8 403.5,118.7 413.0,123.0 C422.5,127.3 435.0,128.8 446.0,126.0 C457.0,123.2 473.5,109.3 479.0,106.0"/>
<path d="M479.0,106.0 C483.8,109.7 496.8,125.3 508.0,128.0 C519.2,130.7 538.0,125.0 546.0,122.0 C554.0,119.0 554.3,112.0 556.0,110.0"/>
<path d="M508.0,128.0 C511.2,133.5 517.5,152.2 527.0,161.0 C536.5,169.8 558.7,177.7 565.0,181.0"/>
<path d="M565.0,126.0 C568.2,131.0 576.2,146.0 584.0,156.0 C591.8,166.0 604.3,182.0 612.0,186.0 C619.7,190.0 627.0,181.0 630.0,180.0"/>
<path d="M332.0,140.0 C335.2,142.8 342.3,156.0 351.0,157.0 C359.7,158.0 377.2,150.8 384.0,146.0 C390.8,141.2 390.7,131.0 392.0,128.0"/>
<path d="M302.0,176.0 C304.7,179.3 313.8,189.0 318.0,196.0 C322.2,203.0 325.5,214.3 327.0,218.0"/>
<path d="M584.0,156.0 C583.3,161.7 577.7,180.2 580.0,190.0 C582.3,199.8 595.0,210.8 598.0,215.0"/>
<path d="M612.0,186.0 C611.3,193.3 605.8,217.3 608.0,230.0 C610.2,242.7 619.7,255.7 625.0,262.0 C630.3,268.3 637.5,267.0 640.0,268.0"/>
<path d="M606.0,300.0 C608.7,301.0 616.3,306.7 622.0,306.0 C627.7,305.3 637.0,297.7 640.0,296.0"/>
<path d="M596.0,350.0 C598.7,351.0 606.7,356.8 612.0,356.0 C617.3,355.2 625.3,346.8 628.0,345.0"/>
<path d="M300.0,222.0 C302.0,220.7 307.7,214.0 312.0,214.0 C316.3,214.0 323.7,220.7 326.0,222.0"/>
<path d="M446.0,126.0 C447.0,123.0 452.0,114.0 452.0,108.0 C452.0,102.0 447.0,93.0 446.0,90.0"/>
</g>
<path d="M334.0,185.0 C342.8,155.0 351.3,169.8 359.0,164.0 C366.7,158.2 374.5,153.6 380.0,150.0 C385.5,146.4 387.8,145.0 392.0,142.5 C396.2,140.0 400.8,137.8 405.0,135.0 C409.2,132.2 412.8,127.8 417.0,125.5 C421.2,123.2 425.8,121.7 430.0,121.0 C434.2,120.3 437.8,121.7 442.0,121.5 C446.2,121.3 450.8,119.8 455.0,120.0 C459.2,120.2 463.7,121.8 467.0,123.0 C470.3,124.2 469.5,124.7 475.0,127.5 C480.5,130.3 491.7,134.6 500.0,140.0 C508.3,145.4 518.3,153.0 525.0,160.0 C531.7,167.0 534.7,176.7 540.0,182.0 C545.3,187.3 550.3,187.8 557.0,192.0 C563.7,196.2 573.7,201.2 580.0,207.0 C586.3,212.8 591.5,220.7 595.0,227.0 C598.5,233.3 599.8,238.3 601.0,245.0 C602.2,251.7 602.2,261.2 602.0,267.0 C601.8,272.8 600.7,272.8 600.0,280.0 C599.3,287.2 601.2,300.7 598.0,310.0 C594.8,319.3 585.0,328.5 581.0,336.0 C577.0,343.5 575.8,347.7 574.0,355.0 C572.2,362.3 573.7,371.7 570.0,380.0 C566.3,388.3 559.2,396.4 552.0,405.0 C544.8,413.6 534.2,424.8 527.0,431.5 C519.8,438.2 516.0,441.0 509.0,445.0 C502.0,449.0 492.0,453.0 485.0,455.5 C478.0,458.0 472.5,460.0 467.0,460.0 C461.5,460.0 456.5,456.5 452.0,455.5 C447.5,454.5 445.3,454.6 440.0,454.0 C434.7,453.4 425.8,453.3 420.0,452.0 C414.2,450.7 410.8,447.6 405.0,446.0 C399.2,444.4 391.7,444.8 385.0,442.5 C378.3,440.2 371.2,436.7 365.0,432.5 C358.8,428.3 352.9,422.5 347.5,417.5 C342.1,412.5 336.4,408.8 332.5,402.5 C328.6,396.2 326.5,386.7 324.0,380.0 C321.5,373.3 319.4,368.3 317.5,362.5 C315.6,356.7 315.8,348.9 312.5,345.0 C309.2,341.1 293.2,355.7 297.5,339.0 C301.8,322.3 330.9,256.5 338.0,245.0 C345.1,233.5 340.5,260.8 340.0,270.0 C339.5,279.2 338.3,291.7 335.0,300.0 C331.7,308.3 324.8,312.7 320.0,320.0 C315.2,327.3 303.7,366.5 306.0,344.0 C308.3,321.5 325.2,215.0 334.0,185.0Z" fill="#f3c688"/>
<clipPath id="cT"><path d="M334.0,185.0 C342.8,155.0 351.3,169.8 359.0,164.0 C366.7,158.2 374.5,153.6 380.0,150.0 C385.5,146.4 387.8,145.0 392.0,142.5 C396.2,140.0 400.8,137.8 405.0,135.0 C409.2,132.2 412.8,127.8 417.0,125.5 C421.2,123.2 425.8,121.7 430.0,121.0 C434.2,120.3 437.8,121.7 442.0,121.5 C446.2,121.3 450.8,119.8 455.0,120.0 C459.2,120.2 463.7,121.8 467.0,123.0 C470.3,124.2 469.5,124.7 475.0,127.5 C480.5,130.3 491.7,134.6 500.0,140.0 C508.3,145.4 518.3,153.0 525.0,160.0 C531.7,167.0 534.7,176.7 540.0,182.0 C545.3,187.3 550.3,187.8 557.0,192.0 C563.7,196.2 573.7,201.2 580.0,207.0 C586.3,212.8 591.5,220.7 595.0,227.0 C598.5,233.3 599.8,238.3 601.0,245.0 C602.2,251.7 602.2,261.2 602.0,267.0 C601.8,272.8 600.7,272.8 600.0,280.0 C599.3,287.2 601.2,300.7 598.0,310.0 C594.8,319.3 585.0,328.5 581.0,336.0 C577.0,343.5 575.8,347.7 574.0,355.0 C572.2,362.3 573.7,371.7 570.0,380.0 C566.3,388.3 559.2,396.4 552.0,405.0 C544.8,413.6 534.2,424.8 527.0,431.5 C519.8,438.2 516.0,441.0 509.0,445.0 C502.0,449.0 492.0,453.0 485.0,455.5 C478.0,458.0 472.5,460.0 467.0,460.0 C461.5,460.0 456.5,456.5 452.0,455.5 C447.5,454.5 445.3,454.6 440.0,454.0 C434.7,453.4 425.8,453.3 420.0,452.0 C414.2,450.7 410.8,447.6 405.0,446.0 C399.2,444.4 391.7,444.8 385.0,442.5 C378.3,440.2 371.2,436.7 365.0,432.5 C358.8,428.3 352.9,422.5 347.5,417.5 C342.1,412.5 336.4,408.8 332.5,402.5 C328.6,396.2 326.5,386.7 324.0,380.0 C321.5,373.3 319.4,368.3 317.5,362.5 C315.6,356.7 315.8,348.9 312.5,345.0 C309.2,341.1 293.2,355.7 297.5,339.0 C301.8,322.3 330.9,256.5 338.0,245.0 C345.1,233.5 340.5,260.8 340.0,270.0 C339.5,279.2 338.3,291.7 335.0,300.0 C331.7,308.3 324.8,312.7 320.0,320.0 C315.2,327.3 303.7,366.5 306.0,344.0 C308.3,321.5 325.2,215.0 334.0,185.0Z"/></clipPath>
<g clip-path="url(#cT)">
<path d="M340.0,215.0 C341.0,208.0 346.7,196.5 352.0,190.0 C357.3,183.5 369.7,175.0 372.0,176.0 C374.3,177.0 369.3,189.7 366.0,196.0 C362.7,202.3 355.3,208.0 352.0,214.0 C348.7,220.0 348.0,231.8 346.0,232.0 C344.0,232.2 339.0,222.0 340.0,215.0Z" fill="#e3a566" opacity="0.8" />
<path d="M512.0,150.0 C514.0,147.0 520.7,145.8 524.0,150.0 C527.3,154.2 531.3,166.7 532.0,175.0 C532.7,183.3 530.7,197.5 528.0,200.0 C525.3,202.5 518.7,195.3 516.0,190.0 C513.3,184.7 512.7,174.7 512.0,168.0 C511.3,161.3 510.0,153.0 512.0,150.0Z" fill="#e2a868" opacity="0.9" />
<path d="M440.0,345.0 C445.8,341.7 476.7,333.2 490.0,332.0 C503.3,330.8 519.2,335.8 520.0,338.0 C520.8,340.2 505.8,342.7 495.0,345.0 C484.2,347.3 464.2,352.0 455.0,352.0 C445.8,352.0 434.2,348.3 440.0,345.0Z" fill="#e2a562" opacity="0.7" />
<path d="M340.0,300.0 C342.0,293.2 355.3,285.0 362.0,285.0 C368.7,285.0 378.3,293.8 380.0,300.0 C381.7,306.2 377.0,317.7 372.0,322.0 C367.0,326.3 355.3,329.7 350.0,326.0 C344.7,322.3 338.0,306.8 340.0,300.0Z" fill="#eab878" opacity="0.8" />
<path d="M560.0,305.0 C563.3,300.0 579.7,296.7 585.0,300.0 C590.3,303.3 593.2,317.5 592.0,325.0 C590.8,332.5 582.5,344.2 578.0,345.0 C573.5,345.8 568.0,336.7 565.0,330.0 C562.0,323.3 556.7,310.0 560.0,305.0Z" fill="#e8b272" opacity="0.8" />
<path d="M372.2,160.1 C375.0,153.6 389.1,144.9 397.1,138.7 C405.0,132.5 414.0,123.4 419.7,122.9 C425.3,122.3 429.8,128.1 431.0,135.3 C432.1,142.4 427.9,157.5 426.4,165.8 C424.9,174.1 427.4,181.8 421.9,185.0 C416.5,188.2 400.6,186.1 393.7,185.0 C386.7,183.9 383.7,182.4 380.1,178.2 C376.5,174.1 369.4,166.7 372.2,160.1Z" fill="url(#sq0)"/>
<path d="M372.2,160.1 C375.0,153.6 389.1,144.9 397.1,138.7 C405.0,132.5 414.0,123.4 419.7,122.9 C425.3,122.3 429.8,128.1 431.0,135.3 C432.1,142.4 427.9,157.5 426.4,165.8 C424.9,174.1 427.4,181.8 421.9,185.0 C416.5,188.2 400.6,186.1 393.7,185.0 C386.7,183.9 383.7,182.4 380.1,178.2 C376.5,174.1 369.4,166.7 372.2,160.1Z" fill="none" stroke="#f3c688" stroke-width="7" stroke-dasharray="3.2 8.3" stroke-linecap="round"/>
<path d="M349.1,226.0 C349.1,218.1 356.9,197.3 363.8,189.8 C370.8,182.3 381.9,181.7 390.9,180.8 C400.0,179.8 415.8,178.5 418.1,184.2 C420.3,189.8 409.4,207.1 404.5,214.7 C399.6,222.2 395.5,225.6 388.7,229.4 C381.9,233.1 370.4,237.8 363.8,237.3 C357.2,236.7 349.1,233.9 349.1,226.0Z" fill="url(#sq1)"/>
<path d="M349.1,226.0 C349.1,218.1 356.9,197.3 363.8,189.8 C370.8,182.3 381.9,181.7 390.9,180.8 C400.0,179.8 415.8,178.5 418.1,184.2 C420.3,189.8 409.4,207.1 404.5,214.7 C399.6,222.2 395.5,225.6 388.7,229.4 C381.9,233.1 370.4,237.8 363.8,237.3 C357.2,236.7 349.1,233.9 349.1,226.0Z" fill="none" stroke="#f3c688" stroke-width="7" stroke-dasharray="3.2 8.3" stroke-linecap="round"/>
<path d="M338.0,238.0 C343.7,231.6 365.9,227.4 378.7,226.7 C391.5,225.9 405.8,229.3 414.9,233.5 C423.9,237.6 428.8,244.4 432.9,251.5 C437.1,258.7 445.0,271.5 439.7,276.4 C434.4,281.3 413.0,281.7 401.3,280.9 C389.6,280.2 379.1,274.5 369.7,271.9 C360.2,269.2 350.1,270.8 344.8,265.1 C339.5,259.5 332.4,244.4 338.0,238.0Z" fill="url(#sq2)"/>
<path d="M338.0,238.0 C343.7,231.6 365.9,227.4 378.7,226.7 C391.5,225.9 405.8,229.3 414.9,233.5 C423.9,237.6 428.8,244.4 432.9,251.5 C437.1,258.7 445.0,271.5 439.7,276.4 C434.4,281.3 413.0,281.7 401.3,280.9 C389.6,280.2 379.1,274.5 369.7,271.9 C360.2,269.2 350.1,270.8 344.8,265.1 C339.5,259.5 332.4,244.4 338.0,238.0Z" fill="none" stroke="#f3c688" stroke-width="7" stroke-dasharray="3.2 8.3" stroke-linecap="round"/>
<path d="M428.5,118.8 C433.0,112.6 452.6,113.4 464.6,115.4 C476.7,117.5 492.5,126.2 500.8,131.3 C509.1,136.3 510.6,138.6 514.3,145.9 C518.1,153.3 520.7,165.2 523.4,175.3 C526.0,185.5 528.7,194.9 530.2,207.0 C531.7,219.0 533.5,236.7 532.4,247.6 C531.3,258.6 527.1,272.5 523.4,272.5 C519.6,272.5 513.6,258.4 509.8,247.6 C506.1,236.9 503.8,220.2 500.8,208.1 C497.8,196.0 497.8,183.8 491.7,175.3 C485.7,166.9 473.7,161.0 464.6,157.2 C455.6,153.5 443.5,159.1 437.5,152.7 C431.5,146.3 423.9,125.0 428.5,118.8Z" fill="url(#sq3)"/>
<path d="M428.5,118.8 C433.0,112.6 452.6,113.4 464.6,115.4 C476.7,117.5 492.5,126.2 500.8,131.3 C509.1,136.3 510.6,138.6 514.3,145.9 C518.1,153.3 520.7,165.2 523.4,175.3 C526.0,185.5 528.7,194.9 530.2,207.0 C531.7,219.0 533.5,236.7 532.4,247.6 C531.3,258.6 527.1,272.5 523.4,272.5 C519.6,272.5 513.6,258.4 509.8,247.6 C506.1,236.9 503.8,220.2 500.8,208.1 C497.8,196.0 497.8,183.8 491.7,175.3 C485.7,166.9 473.7,161.0 464.6,157.2 C455.6,153.5 443.5,159.1 437.5,152.7 C431.5,146.3 423.9,125.0 428.5,118.8Z" fill="none" stroke="#f3c688" stroke-width="7" stroke-dasharray="3.2 8.3" stroke-linecap="round"/>
<path d="M504.6,265.9 C507.2,260.6 519.6,258.4 527.2,259.1 C534.7,259.9 543.8,265.2 549.8,270.4 C555.8,275.7 562.6,284.4 563.3,290.8 C564.1,297.2 560.0,307.0 554.3,308.9 C548.7,310.7 536.6,305.1 529.4,302.1 C522.3,299.1 515.5,296.8 511.4,290.8 C507.2,284.8 501.9,271.2 504.6,265.9Z" fill="url(#sq4)"/>
<path d="M504.6,265.9 C507.2,260.6 519.6,258.4 527.2,259.1 C534.7,259.9 543.8,265.2 549.8,270.4 C555.8,275.7 562.6,284.4 563.3,290.8 C564.1,297.2 560.0,307.0 554.3,308.9 C548.7,310.7 536.6,305.1 529.4,302.1 C522.3,299.1 515.5,296.8 511.4,290.8 C507.2,284.8 501.9,271.2 504.6,265.9Z" fill="none" stroke="#f3c688" stroke-width="7" stroke-dasharray="3.2 8.3" stroke-linecap="round"/>
<path d="M536.1,209.2 C540.9,204.3 562.4,201.7 572.2,204.7 C582.0,207.7 589.7,218.3 594.8,227.3 C599.9,236.3 602.7,246.1 602.7,258.9 C602.7,271.7 601.0,296.6 594.8,304.1 C588.6,311.7 572.2,310.9 565.4,304.1 C558.7,297.4 557.9,275.1 554.1,263.5 C550.4,251.8 545.8,243.1 542.8,234.1 C539.8,225.0 531.2,214.1 536.1,209.2Z" fill="url(#sqr5)"/>
<path d="M536.1,209.2 C540.9,204.3 562.4,201.7 572.2,204.7 C582.0,207.7 589.7,218.3 594.8,227.3 C599.9,236.3 602.7,246.1 602.7,258.9 C602.7,271.7 601.0,296.6 594.8,304.1 C588.6,311.7 572.2,310.9 565.4,304.1 C558.7,297.4 557.9,275.1 554.1,263.5 C550.4,251.8 545.8,243.1 542.8,234.1 C539.8,225.0 531.2,214.1 536.1,209.2Z" fill="none" stroke="#f3c688" stroke-width="7" stroke-dasharray="3.2 8.3" stroke-linecap="round"/>
<path d="M389.2,270.9 C393.7,263.7 412.9,261.1 420.8,264.1 C428.7,267.1 434.8,278.8 436.6,289.0 C438.5,299.1 436.6,318.0 432.1,325.1 C427.6,332.3 415.9,334.9 409.5,331.9 C403.1,328.9 397.1,317.2 393.7,307.0 C390.3,296.9 384.7,278.0 389.2,270.9Z" fill="url(#sq6)"/>
<path d="M389.2,270.9 C393.7,263.7 412.9,261.1 420.8,264.1 C428.7,267.1 434.8,278.8 436.6,289.0 C438.5,299.1 436.6,318.0 432.1,325.1 C427.6,332.3 415.9,334.9 409.5,331.9 C403.1,328.9 397.1,317.2 393.7,307.0 C390.3,296.9 384.7,278.0 389.2,270.9Z" fill="none" stroke="#f3c688" stroke-width="7" stroke-dasharray="3.2 8.3" stroke-linecap="round"/>
<path d="M322.8,329.4 C328.4,323.0 346.3,319.3 358.9,318.1 C371.5,317.0 388.3,318.3 398.5,322.7 C408.6,327.0 418.6,335.5 419.9,344.1 C421.3,352.8 414.3,367.3 406.4,374.6 C398.5,382.0 383.2,387.3 372.5,388.2 C361.8,389.1 349.9,385.6 342.0,380.3 C334.1,375.0 328.2,365.0 325.0,356.6 C321.8,348.1 317.1,335.8 322.8,329.4Z" fill="url(#sq7)"/>
<path d="M322.8,329.4 C328.4,323.0 346.3,319.3 358.9,318.1 C371.5,317.0 388.3,318.3 398.5,322.7 C408.6,327.0 418.6,335.5 419.9,344.1 C421.3,352.8 414.3,367.3 406.4,374.6 C398.5,382.0 383.2,387.3 372.5,388.2 C361.8,389.1 349.9,385.6 342.0,380.3 C334.1,375.0 328.2,365.0 325.0,356.6 C321.8,348.1 317.1,335.8 322.8,329.4Z" fill="none" stroke="#f3c688" stroke-width="7" stroke-dasharray="3.2 8.3" stroke-linecap="round"/>
<path d="M449.0,280.5 C453.9,276.3 469.3,275.6 478.4,276.0 C487.4,276.3 499.5,277.5 503.2,282.7 C507.0,288.0 506.6,302.3 501.0,307.6 C495.3,312.9 478.0,315.5 469.4,314.4 C460.7,313.3 452.4,306.5 449.0,300.8 C445.6,295.2 444.1,284.6 449.0,280.5Z" fill="url(#sq2)"/>
<path d="M449.0,280.5 C453.9,276.3 469.3,275.6 478.4,276.0 C487.4,276.3 499.5,277.5 503.2,282.7 C507.0,288.0 506.6,302.3 501.0,307.6 C495.3,312.9 478.0,315.5 469.4,314.4 C460.7,313.3 452.4,306.5 449.0,300.8 C445.6,295.2 444.1,284.6 449.0,280.5Z" fill="none" stroke="#f3c688" stroke-width="7" stroke-dasharray="3.2 8.3" stroke-linecap="round"/>
<path d="M499.7,297.5 C503.4,291.8 528.5,291.4 539.2,293.0 C550.0,294.5 556.5,301.6 564.1,306.5 C571.6,311.4 582.9,315.6 584.4,322.3 C585.9,329.1 579.7,343.8 573.1,347.2 C566.5,350.6 554.3,346.1 544.9,342.7 C535.5,339.3 524.2,334.4 516.6,326.9 C509.1,319.3 495.9,303.1 499.7,297.5Z" fill="url(#sq4)"/>
<path d="M499.7,297.5 C503.4,291.8 528.5,291.4 539.2,293.0 C550.0,294.5 556.5,301.6 564.1,306.5 C571.6,311.4 582.9,315.6 584.4,322.3 C585.9,329.1 579.7,343.8 573.1,347.2 C566.5,350.6 554.3,346.1 544.9,342.7 C535.5,339.3 524.2,334.4 516.6,326.9 C509.1,319.3 495.9,303.1 499.7,297.5Z" fill="none" stroke="#f3c688" stroke-width="7" stroke-dasharray="3.2 8.3" stroke-linecap="round"/>
<path d="M362.7,395.5 C365.3,387.2 378.9,376.8 389.8,370.6 C400.7,364.4 414.3,360.2 428.2,358.2 C442.2,356.1 460.6,356.3 473.4,358.2 C486.2,360.1 497.9,363.3 505.1,369.5 C512.2,375.7 516.0,386.6 516.4,395.5 C516.8,404.3 513.0,415.8 507.3,422.6 C501.7,429.4 493.8,433.3 482.5,436.1 C471.2,439.0 453.3,439.7 439.5,439.5 C425.8,439.3 410.9,438.2 400.0,435.0 C389.1,431.8 380.2,426.9 374.0,420.3 C367.8,413.7 360.1,403.8 362.7,395.5Z" fill="url(#sq1)"/>
<path d="M362.7,395.5 C365.3,387.2 378.9,376.8 389.8,370.6 C400.7,364.4 414.3,360.2 428.2,358.2 C442.2,356.1 460.6,356.3 473.4,358.2 C486.2,360.1 497.9,363.3 505.1,369.5 C512.2,375.7 516.0,386.6 516.4,395.5 C516.8,404.3 513.0,415.8 507.3,422.6 C501.7,429.4 493.8,433.3 482.5,436.1 C471.2,439.0 453.3,439.7 439.5,439.5 C425.8,439.3 410.9,438.2 400.0,435.0 C389.1,431.8 380.2,426.9 374.0,420.3 C367.8,413.7 360.1,403.8 362.7,395.5Z" fill="none" stroke="#f3c688" stroke-width="7" stroke-dasharray="3.2 8.3" stroke-linecap="round"/>
<path d="M517.1,333.1 C522.4,326.5 541.2,324.6 551.0,326.3 C560.8,328.0 572.1,333.8 575.9,343.2 C579.6,352.6 576.6,370.5 573.6,382.8 C570.6,395.0 564.9,408.0 557.8,416.7 C550.6,425.3 538.2,436.6 530.7,434.8 C523.1,432.9 514.5,416.9 512.6,405.4 C510.7,393.9 518.6,377.9 519.4,365.8 C520.1,353.8 511.8,339.7 517.1,333.1Z" fill="url(#sq5)"/>
<path d="M517.1,333.1 C522.4,326.5 541.2,324.6 551.0,326.3 C560.8,328.0 572.1,333.8 575.9,343.2 C579.6,352.6 576.6,370.5 573.6,382.8 C570.6,395.0 564.9,408.0 557.8,416.7 C550.6,425.3 538.2,436.6 530.7,434.8 C523.1,432.9 514.5,416.9 512.6,405.4 C510.7,393.9 518.6,377.9 519.4,365.8 C520.1,353.8 511.8,339.7 517.1,333.1Z" fill="none" stroke="#f3c688" stroke-width="7" stroke-dasharray="3.2 8.3" stroke-linecap="round"/>
<path d="M319.2,348.4 C323.0,343.8 337.7,342.3 345.2,346.1 C352.7,349.9 360.4,360.4 364.4,371.0 C368.4,381.5 371.2,401.8 368.9,409.4 C366.7,416.9 356.7,418.4 350.8,416.2 C345.0,413.9 338.6,403.0 333.9,395.8 C329.2,388.7 325.0,381.1 322.6,373.2 C320.1,365.3 315.4,352.9 319.2,348.4Z" fill="url(#sq2)"/>
<path d="M319.2,348.4 C323.0,343.8 337.7,342.3 345.2,346.1 C352.7,349.9 360.4,360.4 364.4,371.0 C368.4,381.5 371.2,401.8 368.9,409.4 C366.7,416.9 356.7,418.4 350.8,416.2 C345.0,413.9 338.6,403.0 333.9,395.8 C329.2,388.7 325.0,381.1 322.6,373.2 C320.1,365.3 315.4,352.9 319.2,348.4Z" fill="none" stroke="#f3c688" stroke-width="7" stroke-dasharray="3.2 8.3" stroke-linecap="round"/>
<path d="M392.0,366.0 C395.3,362.7 404.0,351.7 412.0,346.0 C420.0,340.3 430.3,335.5 440.0,332.0 C449.7,328.5 460.0,325.8 470.0,325.0 C480.0,324.2 491.3,324.8 500.0,327.0 C508.7,329.2 518.3,336.2 522.0,338.0" fill="none" stroke="#d28e4c" stroke-width="1.2" opacity="0.8"/>
<path d="M362.0,274.0 C363.7,278.3 367.0,292.7 372.0,300.0 C377.0,307.3 384.0,313.0 392.0,318.0 C400.0,323.0 415.3,328.0 420.0,330.0" fill="none" stroke="#d28e4c" stroke-width="1.2" opacity="0.8"/>
<path d="M536.0,160.0 C538.0,164.3 544.0,180.0 548.0,186.0 C552.0,192.0 555.3,193.0 560.0,196.0 C564.7,199.0 573.3,202.7 576.0,204.0" fill="none" stroke="#d28e4c" stroke-width="1.2" opacity="0.8"/>
<path d="M392.0,212.0 C391.0,205.0 403.0,200.3 408.0,196.0 C413.0,191.7 419.0,184.7 422.0,186.0 C425.0,187.3 425.7,196.3 426.0,204.0 C426.3,211.7 426.0,226.3 424.0,232.0 C422.0,237.7 419.3,241.3 414.0,238.0 C408.7,234.7 393.0,219.0 392.0,212.0Z" fill="#c2a484" opacity="1" />
<path d="M460.0,168.0 C463.3,163.7 481.3,172.0 488.0,178.0 C494.7,184.0 496.7,194.3 500.0,204.0 C503.3,213.7 506.0,224.7 508.0,236.0 C510.0,247.3 514.0,266.3 512.0,272.0 C510.0,277.7 501.3,274.7 496.0,270.0 C490.7,265.3 484.7,255.0 480.0,244.0 C475.3,233.0 471.3,216.7 468.0,204.0 C464.7,191.3 456.7,172.3 460.0,168.0Z" fill="#c2a484" opacity="1" />
<path d="M500.0,190.0 C503.7,195.7 509.3,215.8 512.0,230.0 C514.7,244.2 516.7,267.5 516.0,275.0 C515.3,282.5 510.7,282.2 508.0,275.0 C505.3,267.8 503.0,245.2 500.0,232.0 C497.0,218.8 490.0,203.0 490.0,196.0 C490.0,189.0 496.3,184.3 500.0,190.0Z" fill="#a88662" opacity="1" />
<path d="M355.0,347.0 C356.3,343.2 364.8,342.3 370.0,344.0 C375.2,345.7 384.2,350.8 386.0,357.0 C387.8,363.2 383.3,376.7 381.0,381.0 C378.7,385.3 375.2,385.3 372.0,383.0 C368.8,380.7 364.8,373.0 362.0,367.0 C359.2,361.0 353.7,350.8 355.0,347.0Z" fill="#c2a484" opacity="1" />
<path d="M422.0,398.0 C422.7,395.0 433.3,390.0 440.0,388.0 C446.7,386.0 456.7,384.0 462.0,386.0 C467.3,388.0 473.2,396.3 472.0,400.0 C470.8,403.7 461.0,407.0 455.0,408.0 C449.0,409.0 441.5,407.7 436.0,406.0 C430.5,404.3 421.3,401.0 422.0,398.0Z" fill="#c2a484" opacity="1" />
<path d="M488.0,328.0 C489.3,322.5 497.8,319.7 503.0,321.0 C508.2,322.3 515.0,329.8 519.0,336.0 C523.0,342.2 526.5,351.2 527.0,358.0 C527.5,364.8 525.5,374.5 522.0,377.0 C518.5,379.5 510.5,376.8 506.0,373.0 C501.5,369.2 498.0,361.5 495.0,354.0 C492.0,346.5 486.7,333.5 488.0,328.0Z" fill="#c2a484" opacity="1" />
<path d="M422.0,190.0 C424.3,186.2 432.0,186.5 438.0,185.0 C444.0,183.5 454.2,179.2 458.0,181.0 C461.8,182.8 458.7,187.5 461.0,196.0 C463.3,204.5 467.5,221.3 472.0,232.0 C476.5,242.7 487.0,253.3 488.0,260.0 C489.0,266.7 483.3,269.8 478.0,272.0 C472.7,274.2 462.3,275.0 456.0,273.0 C449.7,271.0 444.2,266.8 440.0,260.0 C435.8,253.2 433.7,240.7 431.0,232.0 C428.3,223.3 425.5,215.0 424.0,208.0 C422.5,201.0 419.7,193.8 422.0,190.0Z" fill="#f0b8a0" opacity="1" stroke="#9a4a30" stroke-width="1"/>
<path d="M431.0,195.0 C433.8,191.8 447.2,188.2 451.0,189.0 C454.8,189.8 451.8,192.5 454.0,200.0 C456.2,207.5 460.0,224.2 464.0,234.0 C468.0,243.8 477.0,253.5 478.0,259.0 C479.0,264.5 473.3,265.7 470.0,267.0 C466.7,268.3 461.7,268.8 458.0,267.0 C454.3,265.2 451.0,262.2 448.0,256.0 C445.0,249.8 442.3,238.0 440.0,230.0 C437.7,222.0 435.5,213.8 434.0,208.0 C432.5,202.2 428.2,198.2 431.0,195.0Z" fill="#b23c2c" opacity="1" />
<circle cx="444" cy="214" r="1.1" fill="#5a1208"/>
<circle cx="450" cy="222" r="1.1" fill="#5a1208"/>
<circle cx="446" cy="230" r="1.1" fill="#5a1208"/>
<circle cx="455" cy="236" r="1.1" fill="#5a1208"/>
<circle cx="451" cy="244" r="1.1" fill="#5a1208"/>
<circle cx="460" cy="248" r="1.1" fill="#5a1208"/>
<circle cx="456" cy="228" r="1.1" fill="#5a1208"/>
<circle cx="463" cy="240" r="1.1" fill="#5a1208"/>
<circle cx="449" cy="238" r="1.1" fill="#5a1208"/>
<circle cx="458" cy="254" r="1.1" fill="#5a1208"/>
<circle cx="453" cy="218" r="1.1" fill="#5a1208"/>
<ellipse cx="421" cy="196" rx="2.2" ry="3.6" fill="#fbe9c8" stroke="#b0623c" stroke-width="0.5" transform="rotate(-18 421 196)"/>
<ellipse cx="423" cy="208" rx="2.2" ry="3.6" fill="#fbe9c8" stroke="#b0623c" stroke-width="0.5" transform="rotate(-18 423 208)"/>
<ellipse cx="427" cy="222" rx="2.2" ry="3.6" fill="#fbe9c8" stroke="#b0623c" stroke-width="0.5" transform="rotate(-18 427 222)"/>
<ellipse cx="431" cy="236" rx="2.2" ry="3.6" fill="#fbe9c8" stroke="#b0623c" stroke-width="0.5" transform="rotate(-18 431 236)"/>
<ellipse cx="436" cy="250" rx="2.2" ry="3.6" fill="#fbe9c8" stroke="#b0623c" stroke-width="0.5" transform="rotate(-18 436 250)"/>
<ellipse cx="464" cy="200" rx="2.2" ry="3.6" fill="#fbe9c8" stroke="#b0623c" stroke-width="0.5" transform="rotate(-18 464 200)"/>
<ellipse cx="468" cy="214" rx="2.2" ry="3.6" fill="#fbe9c8" stroke="#b0623c" stroke-width="0.5" transform="rotate(-18 468 214)"/>
<ellipse cx="474" cy="228" rx="2.2" ry="3.6" fill="#fbe9c8" stroke="#b0623c" stroke-width="0.5" transform="rotate(-18 474 228)"/>
<ellipse cx="480" cy="242" rx="2.2" ry="3.6" fill="#fbe9c8" stroke="#b0623c" stroke-width="0.5" transform="rotate(-18 480 242)"/>
<ellipse cx="486" cy="254" rx="2.2" ry="3.6" fill="#fbe9c8" stroke="#b0623c" stroke-width="0.5" transform="rotate(-18 486 254)"/>
<ellipse cx="440" cy="198" rx="11" ry="8" fill="#d9503c" stroke="#8a2418" stroke-width="0.8" transform="rotate(-10 440 198)"/>
<ellipse cx="462" cy="262" rx="12" ry="9" fill="#d9503c" stroke="#8a2418" stroke-width="0.8" transform="rotate(15 462 262)"/>
</g>
<path d="M283.0,221.0 C282.0,217.3 281.8,212.5 285.0,209.0 C288.2,205.5 298.5,205.2 302.0,200.0 C305.5,194.8 303.7,187.0 306.0,178.0 C308.3,169.0 311.8,153.7 316.0,146.0 C320.2,138.3 323.3,135.8 331.0,132.0 C338.7,128.2 354.0,127.0 362.0,123.0 C370.0,119.0 371.5,113.0 379.0,108.0 C386.5,103.0 396.0,96.5 407.0,93.0 C418.0,89.5 432.3,88.0 445.0,87.0 C457.7,86.0 471.8,85.7 483.0,87.0 C494.2,88.3 500.8,91.3 512.0,95.0 C523.2,98.7 538.7,102.7 550.0,109.0 C561.3,115.3 571.0,124.5 580.0,133.0 C589.0,141.5 597.0,151.3 604.0,160.0 C611.0,168.7 617.0,176.3 622.0,185.0 C627.0,193.7 630.8,203.8 634.0,212.0 C637.2,220.2 639.2,226.7 641.0,234.0 C642.8,241.3 644.8,247.5 645.0,256.0 C645.2,264.5 642.3,276.0 642.0,285.0 C641.7,294.0 644.0,301.8 643.0,310.0 C642.0,318.2 638.7,326.5 636.0,334.0 C633.3,341.5 629.8,347.3 627.0,355.0 C624.2,362.7 624.3,371.2 619.0,380.0 C613.7,388.8 604.3,399.4 595.0,408.0 C585.7,416.6 570.3,425.3 563.0,431.5 C555.7,437.7 556.5,440.5 551.0,445.0 C545.5,449.5 538.5,455.2 530.0,458.5 C521.5,461.8 510.0,462.2 500.0,464.5 C490.0,466.8 480.0,471.0 470.0,472.0 C460.0,473.0 448.3,471.5 440.0,470.5 C431.7,469.5 425.8,467.1 420.0,466.0 C414.2,464.9 411.7,465.8 405.0,464.0 C398.3,462.2 388.3,459.0 380.0,455.0 C371.7,451.0 362.5,445.4 355.0,440.0 C347.5,434.6 341.2,429.6 335.0,422.5 C328.8,415.4 322.5,404.6 317.5,397.5 C312.5,390.4 308.8,386.2 305.0,380.0 C301.2,373.8 297.5,366.2 295.0,360.0 C292.5,353.8 289.6,346.0 290.0,342.5 C290.4,339.0 293.8,338.6 297.5,339.0 C301.2,339.4 309.2,341.1 312.5,345.0 C315.8,348.9 315.6,356.7 317.5,362.5 C319.4,368.3 321.5,373.3 324.0,380.0 C326.5,386.7 328.6,396.2 332.5,402.5 C336.4,408.8 342.1,412.5 347.5,417.5 C352.9,422.5 358.8,428.3 365.0,432.5 C371.2,436.7 378.3,440.2 385.0,442.5 C391.7,444.8 399.2,444.4 405.0,446.0 C410.8,447.6 414.2,450.7 420.0,452.0 C425.8,453.3 434.7,453.4 440.0,454.0 C445.3,454.6 447.5,454.5 452.0,455.5 C456.5,456.5 461.5,460.0 467.0,460.0 C472.5,460.0 478.0,458.0 485.0,455.5 C492.0,453.0 502.0,449.0 509.0,445.0 C516.0,441.0 519.8,438.2 527.0,431.5 C534.2,424.8 544.8,413.6 552.0,405.0 C559.2,396.4 566.3,388.3 570.0,380.0 C573.7,371.7 572.2,362.3 574.0,355.0 C575.8,347.7 577.0,343.5 581.0,336.0 C585.0,328.5 594.8,319.3 598.0,310.0 C601.2,300.7 599.3,287.2 600.0,280.0 C600.7,272.8 601.8,272.8 602.0,267.0 C602.2,261.2 602.2,251.7 601.0,245.0 C599.8,238.3 598.5,233.3 595.0,227.0 C591.5,220.7 586.3,212.8 580.0,207.0 C573.7,201.2 563.7,196.2 557.0,192.0 C550.3,187.8 545.3,187.3 540.0,182.0 C534.7,176.7 531.7,167.0 525.0,160.0 C518.3,153.0 508.3,145.4 500.0,140.0 C491.7,134.6 480.5,130.3 475.0,127.5 C469.5,124.7 470.3,124.2 467.0,123.0 C463.7,121.8 459.2,120.2 455.0,120.0 C450.8,119.8 446.2,121.3 442.0,121.5 C437.8,121.7 434.2,120.3 430.0,121.0 C425.8,121.7 421.2,123.2 417.0,125.5 C412.8,127.8 409.2,132.2 405.0,135.0 C400.8,137.8 396.2,140.0 392.0,142.5 C387.8,145.0 385.5,146.4 380.0,150.0 C374.5,153.6 366.7,158.2 359.0,164.0 C351.3,169.8 339.0,178.3 334.0,185.0 C329.0,191.7 329.8,198.8 329.0,204.0 C328.2,209.2 329.8,212.3 329.0,216.0 C328.2,219.7 326.2,222.5 324.0,226.0 C321.8,229.5 320.3,234.8 316.0,237.0 C311.7,239.2 302.2,240.0 298.0,239.0 C293.8,238.0 293.5,234.0 291.0,231.0 C288.5,228.0 284.0,224.7 283.0,221.0Z" fill="none" stroke="#fff200" stroke-width="3.6" stroke-linejoin="round"/>
<path d="M230.0,478.0 C229.8,471.7 229.2,452.2 229.0,440.0 C228.8,427.8 228.3,416.3 229.0,405.0 C229.7,393.7 230.7,381.8 233.0,372.0 C235.3,362.2 238.2,353.3 243.0,346.0 C247.8,338.7 255.0,332.7 262.0,328.0 C269.0,323.3 280.7,319.8 285.0,318.0 C289.3,316.2 287.5,317.2 288.0,317.0" fill="none" stroke="#7a4a4a" stroke-width="58" stroke-linecap="butt"/>
<path d="M230.0,478.0 C229.8,471.7 229.2,452.2 229.0,440.0 C228.8,427.8 228.3,416.3 229.0,405.0 C229.7,393.7 230.7,381.8 233.0,372.0 C235.3,362.2 238.2,353.3 243.0,346.0 C247.8,338.7 255.0,332.7 262.0,328.0 C269.0,323.3 280.7,319.8 285.0,318.0 C289.3,316.2 287.5,317.2 288.0,317.0" fill="none" stroke="#c3a2ac" stroke-width="56" stroke-linecap="butt"/>
<path d="M230.0,478.0 C229.8,471.7 229.2,452.2 229.0,440.0 C228.8,427.8 228.3,416.3 229.0,405.0 C229.7,393.7 230.7,381.8 233.0,372.0 C235.3,362.2 238.2,353.3 243.0,346.0 C247.8,338.7 255.0,332.7 262.0,328.0 C269.0,323.3 277.0,320.5 285.0,318.0 C293.0,315.5 305.8,313.8 310.0,313.0" fill="none" stroke="#8a3a28" stroke-width="36" stroke-linecap="butt"/>
<path d="M230.0,478.0 C229.8,471.7 229.2,452.2 229.0,440.0 C228.8,427.8 228.3,416.3 229.0,405.0 C229.7,393.7 230.7,381.8 233.0,372.0 C235.3,362.2 238.2,353.3 243.0,346.0 C247.8,338.7 255.0,332.7 262.0,328.0 C269.0,323.3 277.0,320.5 285.0,318.0 C293.0,315.5 305.8,313.8 310.0,313.0" fill="none" stroke="#d48a70" stroke-width="34" stroke-linecap="butt"/>
<path d="M230.0,478.0 C229.8,471.7 229.2,452.2 229.0,440.0 C228.8,427.8 228.3,416.3 229.0,405.0 C229.7,393.7 230.7,381.8 233.0,372.0 C235.3,362.2 238.2,353.3 243.0,346.0 C247.8,338.7 255.0,332.7 262.0,328.0 C269.0,323.3 277.0,320.5 285.0,318.0 C293.0,315.5 305.8,313.8 310.0,313.0" fill="none" stroke="#a43c2a" stroke-width="27" stroke-linecap="butt"/>
<path d="M230.0,478.0 C229.8,471.7 229.2,452.2 229.0,440.0 C228.8,427.8 228.3,416.3 229.0,405.0 C229.7,393.7 230.7,381.8 233.0,372.0 C235.3,362.2 238.2,353.3 243.0,346.0 C247.8,338.7 255.0,332.7 262.0,328.0 C269.0,323.3 277.0,320.5 285.0,318.0 C293.0,315.5 305.8,313.8 310.0,313.0" fill="none" stroke="#c05640" stroke-width="23" stroke-linecap="butt"/>
<ellipse cx="206" cy="458" rx="6" ry="3" fill="#8a6a80" transform="rotate(88 206 458)"/>
<ellipse cx="206" cy="428" rx="6" ry="3" fill="#8a6a80" transform="rotate(90 206 428)"/>
<ellipse cx="206" cy="398" rx="6" ry="3" fill="#8a6a80" transform="rotate(92 206 398)"/>
<ellipse cx="210" cy="368" rx="6" ry="3" fill="#8a6a80" transform="rotate(102 210 368)"/>
<ellipse cx="220" cy="342" rx="6" ry="3" fill="#8a6a80" transform="rotate(120 220 342)"/>
<ellipse cx="238" cy="318" rx="6" ry="3" fill="#8a6a80" transform="rotate(135 238 318)"/>
<ellipse cx="253" cy="458" rx="6" ry="3" fill="#8a6a80" transform="rotate(88 253 458)"/>
<ellipse cx="252" cy="428" rx="6" ry="3" fill="#8a6a80" transform="rotate(90 252 428)"/>
<ellipse cx="252" cy="400" rx="6" ry="3" fill="#8a6a80" transform="rotate(95 252 400)"/>
<ellipse cx="256" cy="374" rx="6" ry="3" fill="#8a6a80" transform="rotate(105 256 374)"/>
<ellipse cx="266" cy="352" rx="6" ry="3" fill="#8a6a80" transform="rotate(125 266 352)"/>
<ellipse cx="232" cy="476" rx="16" ry="12" fill="#d4553c" stroke="#8a2a1a" stroke-width="1"/>
<ellipse cx="234" cy="388" rx="11" ry="20" fill="#dc6a4e" opacity="0.9"/>
<path d="M220.5,139.0 C220.9,142.5 221.6,151.5 223.0,160.0 C224.4,168.5 226.5,181.5 229.0,190.0 C231.5,198.5 234.5,204.3 238.0,211.0 C241.5,217.7 245.3,224.3 250.0,230.0 C254.7,235.7 260.0,240.8 266.0,245.0 C272.0,249.2 279.0,252.3 286.0,255.0 C293.0,257.7 302.0,259.5 308.0,261.0 C314.0,262.5 319.7,263.5 322.0,264.0" fill="none" stroke="#7a2e1a" stroke-width="42" stroke-linecap="butt"/>
<path d="M220.5,139.0 C220.9,142.5 221.6,151.5 223.0,160.0 C224.4,168.5 226.5,181.5 229.0,190.0 C231.5,198.5 234.5,204.3 238.0,211.0 C241.5,217.7 245.3,224.3 250.0,230.0 C254.7,235.7 260.0,240.8 266.0,245.0 C272.0,249.2 279.0,252.3 286.0,255.0 C293.0,257.7 302.0,259.5 308.0,261.0 C314.0,262.5 319.7,263.5 322.0,264.0" fill="none" stroke="#b8553a" stroke-width="40" stroke-linecap="butt"/>
<path d="M220.5,139.0 C220.9,142.5 221.6,151.5 223.0,160.0 C224.4,168.5 226.5,181.5 229.0,190.0 C231.5,198.5 234.5,204.3 238.0,211.0 C241.5,217.7 245.3,224.3 250.0,230.0 C254.7,235.7 260.0,240.8 266.0,245.0 C272.0,249.2 279.0,252.3 286.0,255.0 C293.0,257.7 302.0,259.5 308.0,261.0 C314.0,262.5 319.7,263.5 322.0,264.0" fill="none" stroke="#e9a98a" stroke-width="33" stroke-linecap="butt"/>
<path d="M220.5,139.0 C220.9,142.5 221.6,151.5 223.0,160.0 C224.4,168.5 226.5,181.5 229.0,190.0 C231.5,198.5 234.5,204.3 238.0,211.0 C241.5,217.7 245.3,224.3 250.0,230.0 C254.7,235.7 260.0,240.8 266.0,245.0 C272.0,249.2 279.0,252.3 286.0,255.0 C293.0,257.7 302.0,259.5 308.0,261.0 C314.0,262.5 319.7,263.5 322.0,264.0" fill="none" stroke="#a8432f" stroke-width="28" stroke-linecap="butt"/>
<path d="M220.5,139.0 C220.9,142.5 221.6,151.5 223.0,160.0 C224.4,168.5 226.5,181.5 229.0,190.0 C231.5,198.5 234.5,204.3 238.0,211.0 C241.5,217.7 245.3,224.3 250.0,230.0 C254.7,235.7 260.0,240.8 266.0,245.0 C272.0,249.2 279.0,252.3 286.0,255.0 C293.0,257.7 302.0,259.5 308.0,261.0 C314.0,262.5 319.7,263.5 322.0,264.0" fill="none" stroke="#c65840" stroke-width="23" stroke-linecap="butt"/>
<ellipse cx="229" cy="187" rx="10" ry="12" fill="#df6a4c" stroke="#b23f2a" stroke-width="1"/>
<ellipse cx="258" cy="234" rx="9" ry="7" fill="#df6a4c" stroke="#b23f2a" stroke-width="0.8" transform="rotate(40 258 234)"/>
<ellipse cx="207" cy="165" rx="6" ry="2.2" fill="#8c2f1e" transform="rotate(82 207 165)"/>
<ellipse cx="212" cy="195" rx="6" ry="2.2" fill="#8c2f1e" transform="rotate(74 212 195)"/>
<ellipse cx="226" cy="224" rx="6" ry="2.2" fill="#8c2f1e" transform="rotate(58 226 224)"/>
<ellipse cx="238" cy="160" rx="6" ry="2.2" fill="#8c2f1e" transform="rotate(84 238 160)"/>
<ellipse cx="246" cy="190" rx="6" ry="2.2" fill="#8c2f1e" transform="rotate(72 246 190)"/>
<ellipse cx="262" cy="218" rx="6" ry="2.2" fill="#8c2f1e" transform="rotate(52 262 218)"/>
<rect x="216" y="131" width="9" height="16" fill="#b5b5b5" stroke="#555" stroke-width="1" transform="rotate(-8 220 139)"/>
<path d="M298,276 C312,272 335,274 354,282 C345,292 325,297 300,294 Z" fill="#f6d6ac" stroke="#a9603c" stroke-width="0.8"/>
<path d="M318,275 C322,284 320,290 316,296 M336,277 C334,286 338,290 344,290" fill="none" stroke="#a9603c" stroke-width="0.7"/>
<ellipse cx="327" cy="285" rx="8" ry="3.2" fill="#e3ae78" transform="rotate(8 327 285)"/>
<ellipse cx="306" cy="284" rx="6" ry="2.6" fill="#e3ae78"/>
<ellipse cx="324" cy="261" rx="7" ry="15" fill="#eba896" stroke="#8a3a28" stroke-width="1" transform="rotate(-12 324 261)"/>
<ellipse cx="323.5" cy="261" rx="3.6" ry="10.5" fill="#c25a46" transform="rotate(-12 323.5 261)"/>
<path d="M298.0,291.0 C301.8,287.8 311.8,291.5 318.0,293.0 C324.2,294.5 332.5,296.5 335.0,300.0 C337.5,303.5 334.3,309.5 333.0,314.0 C331.7,318.5 330.2,323.2 327.0,327.0 C323.8,330.8 318.5,336.3 314.0,337.0 C309.5,337.7 303.2,335.2 300.0,331.0 C296.8,326.8 295.3,318.7 295.0,312.0 C294.7,305.3 294.2,294.2 298.0,291.0Z" fill="#eeb09c" stroke="#8a3a28" stroke-width="1"/>
<path d="M301.0,297.0 C304.2,295.1 313.2,297.3 318.0,298.5 C322.8,299.7 328.3,301.1 330.0,304.0 C331.7,306.9 329.3,312.3 328.0,316.0 C326.7,319.7 324.5,323.3 322.0,326.0 C319.5,328.7 316.3,332.5 313.0,332.0 C309.7,331.5 304.3,326.7 302.0,323.0 C299.7,319.3 299.2,314.3 299.0,310.0 C298.8,305.7 297.8,298.9 301.0,297.0Z" fill="url(#gOpen)"/>
<path d="M301,297 C312,297 324,300 330,304 C322,306 310,305 300,303 Z" fill="#d07a66" opacity="0.8"/>
<ellipse cx="301" cy="287" rx="50.5" ry="59.5" fill="none" stroke="#ff0000" stroke-width="7"/>
<path d="M223.5,166.0 C223.9,168.0 224.9,174.0 226.0,178.0 C227.1,182.0 228.7,186.2 230.0,190.0 C231.3,193.8 232.2,196.8 234.0,201.0 C235.8,205.2 238.3,210.7 241.0,215.0 C243.7,219.3 247.2,223.3 250.0,227.0 C252.8,230.7 255.0,233.8 258.0,237.0 C261.0,240.2 264.3,243.5 268.0,246.0 C271.7,248.5 276.2,250.4 280.0,252.0 C283.8,253.6 287.2,254.7 291.0,255.5 C294.8,256.3 301.0,256.8 303.0,257.0" fill="none" stroke="#0000ff" stroke-width="6"/>
<polygon points="222.7,150.5 215.5,168.5 231,168.5" fill="#0000ff"/>
<rect x="301" y="250" width="14" height="14" fill="#0000ff"/>
<path d="M228,466 L227,420 C225,380 224,355 240,335 C252,322 275,316 296,313" fill="none" stroke="#ff0000" stroke-width="6"/>
<polygon points="300,308.5 285,323 279,306" fill="#ff0000"/>
<rect x="221" y="460" width="14" height="14" fill="#ff0000"/>
<ellipse cx="641" cy="298" rx="53.5" ry="60.5" fill="none" stroke="#000" stroke-width="6"/>
<ellipse cx="640" cy="297" rx="53.5" ry="60.5" fill="none" stroke="#ffff00" stroke-width="6"/>
<polygon points="362,271 524,271 524,246 577.5,297 524,349 524,322 362,322" fill="none" stroke="#000" stroke-width="4" stroke-linejoin="miter"/>
<polygon points="215,40.5 247,63 231,63 231,131 198.5,131 198.5,63 183,63" fill="#0000ff" stroke="#000040" stroke-width="1"/>
<polygon points="238,487 269,509 254,509 254,577 222.5,577 222.5,509 206,509" fill="#ff0000" stroke="#300" stroke-width="1"/>
<rect x="10.5" y="8.5" width="212" height="31" fill="#fff" stroke="#2b2bd6" stroke-width="1"/>
<rect x="433.6" y="30.4" width="353.4" height="52" fill="#fff" fill-opacity="0.84" stroke="#ffff55" stroke-width="1.4"/>
<rect x="10.8" y="262.6" width="288" height="50.6" fill="#fff" stroke="#f25050" stroke-width="1.5"/>
<rect x="500.6" y="380" width="286.6" height="51.2" fill="#fff" stroke="#ffff55" stroke-width="1.4"/>
<rect x="255.5" y="544.5" width="212" height="32" fill="#fff" stroke="#e23030" stroke-width="1"/>
</svg>

<div class="lb" style="left:10px;top:8px;width:213px;height:32px;font-size:18px;padding-right:2px;">Efferent arteriole</div>
<div class="lb" style="left:433px;top:30px;width:355px;height:53px;font-size:28px;padding-right:3px;">Bowman's space</div>
<div class="lb" style="left:10px;top:262px;width:289px;height:52px;font-size:32px;padding-right:4px;padding-bottom:2px;">Vascular pole</div>
<div class="lb" style="left:500px;top:379px;width:288px;height:53px;font-size:32px;padding-right:3px;padding-bottom:1px;">Urinary pole</div>
<div class="lb" style="left:255px;top:544px;width:213px;height:33px;font-size:18px;padding-right:1px;">Afferent arteriole</div>

</body></html>
